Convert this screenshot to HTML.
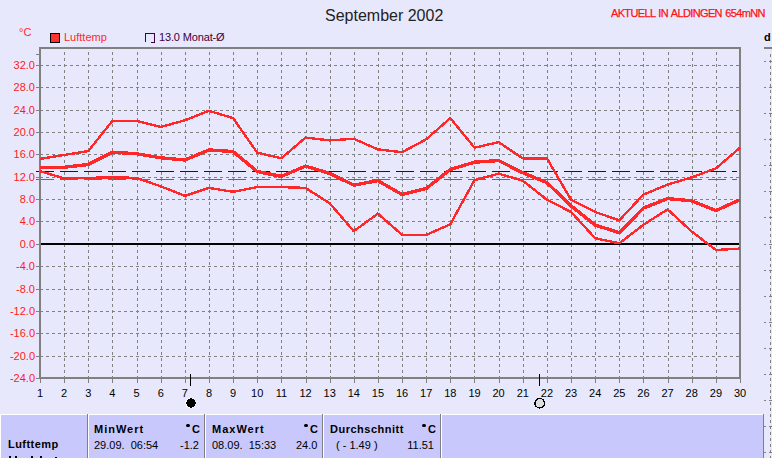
<!DOCTYPE html>
<html><head><meta charset="utf-8"><style>
html,body{margin:0;padding:0;}
body{width:772px;height:458px;overflow:hidden;background:#e8e8fc;position:relative;font-family:"Liberation Sans",sans-serif;font-size:11px;}
.a{position:absolute;white-space:pre;line-height:13px;}
svg{position:absolute;left:0;top:0;}
.yl{position:absolute;left:0;width:35px;text-align:right;color:#ff1a1a;line-height:13px;}
.xl{position:absolute;top:387px;width:30px;text-align:center;color:#000;line-height:13px;}
.b{font-weight:bold;}
</style></head><body>
<div class="a" style="left:325px;top:7px;font-size:16px;line-height:18px;color:#222;">September 2002</div>
<div class="a" style="left:611px;top:7px;color:#ff1010;letter-spacing:-0.65px;word-spacing:1px;-webkit-text-stroke:0.25px #ff1010;">AKTUELL IN ALDINGEN 654mNN</div>
<div class="a" style="left:19px;top:26px;color:#ff2828;">°C</div>
<div style="position:absolute;left:50px;top:33px;width:8px;height:8px;border:1px solid #000;background:#ff3030;"></div>
<div class="a" style="left:64px;top:31px;color:#ff2828;">Lufttemp</div>

<div class="a" style="left:159px;top:31px;color:#400040;letter-spacing:-0.15px;">13.0 Monat-Ø</div>
<div class="a b" style="left:764px;top:31px;color:#000;">d</div>
<svg width="772" height="458" viewBox="0 0 772 458" shape-rendering="crispEdges">
<path d="M40 65h3v1h-3zM46 65h3v1h-3zM52 65h3v1h-3zM58 65h3v1h-3zM64 65h3v1h-3zM70 65h3v1h-3zM76 65h3v1h-3zM82 65h3v1h-3zM88 65h3v1h-3zM94 65h3v1h-3zM100 65h3v1h-3zM106 65h3v1h-3zM112 65h3v1h-3zM118 65h3v1h-3zM124 65h3v1h-3zM130 65h3v1h-3zM136 65h3v1h-3zM142 65h3v1h-3zM148 65h3v1h-3zM154 65h3v1h-3zM160 65h3v1h-3zM166 65h3v1h-3zM172 65h3v1h-3zM178 65h3v1h-3zM184 65h3v1h-3zM190 65h3v1h-3zM196 65h3v1h-3zM202 65h3v1h-3zM208 65h3v1h-3zM214 65h3v1h-3zM220 65h3v1h-3zM226 65h3v1h-3zM232 65h3v1h-3zM238 65h3v1h-3zM244 65h3v1h-3zM250 65h3v1h-3zM256 65h3v1h-3zM262 65h3v1h-3zM268 65h3v1h-3zM274 65h3v1h-3zM280 65h3v1h-3zM286 65h3v1h-3zM292 65h3v1h-3zM298 65h3v1h-3zM304 65h3v1h-3zM310 65h3v1h-3zM316 65h3v1h-3zM322 65h3v1h-3zM328 65h3v1h-3zM334 65h3v1h-3zM340 65h3v1h-3zM346 65h3v1h-3zM352 65h3v1h-3zM358 65h3v1h-3zM364 65h3v1h-3zM370 65h3v1h-3zM376 65h3v1h-3zM382 65h3v1h-3zM388 65h3v1h-3zM394 65h3v1h-3zM400 65h3v1h-3zM406 65h3v1h-3zM412 65h3v1h-3zM418 65h3v1h-3zM424 65h3v1h-3zM430 65h3v1h-3zM436 65h3v1h-3zM442 65h3v1h-3zM448 65h3v1h-3zM454 65h3v1h-3zM460 65h3v1h-3zM466 65h3v1h-3zM472 65h3v1h-3zM478 65h3v1h-3zM484 65h3v1h-3zM490 65h3v1h-3zM496 65h3v1h-3zM502 65h3v1h-3zM508 65h3v1h-3zM514 65h3v1h-3zM520 65h3v1h-3zM526 65h3v1h-3zM532 65h3v1h-3zM538 65h3v1h-3zM544 65h3v1h-3zM550 65h3v1h-3zM556 65h3v1h-3zM562 65h3v1h-3zM568 65h3v1h-3zM574 65h3v1h-3zM580 65h3v1h-3zM586 65h3v1h-3zM592 65h3v1h-3zM598 65h3v1h-3zM604 65h3v1h-3zM610 65h3v1h-3zM616 65h3v1h-3zM622 65h3v1h-3zM628 65h3v1h-3zM634 65h3v1h-3zM640 65h3v1h-3zM646 65h3v1h-3zM652 65h3v1h-3zM658 65h3v1h-3zM664 65h3v1h-3zM670 65h3v1h-3zM676 65h3v1h-3zM682 65h3v1h-3zM688 65h3v1h-3zM694 65h3v1h-3zM700 65h3v1h-3zM706 65h3v1h-3zM712 65h3v1h-3zM718 65h3v1h-3zM724 65h3v1h-3zM730 65h3v1h-3zM736 65h3v1h-3z" fill="#808080"/>
<path d="M40 87h3v1h-3zM46 87h3v1h-3zM52 87h3v1h-3zM58 87h3v1h-3zM64 87h3v1h-3zM70 87h3v1h-3zM76 87h3v1h-3zM82 87h3v1h-3zM88 87h3v1h-3zM94 87h3v1h-3zM100 87h3v1h-3zM106 87h3v1h-3zM112 87h3v1h-3zM118 87h3v1h-3zM124 87h3v1h-3zM130 87h3v1h-3zM136 87h3v1h-3zM142 87h3v1h-3zM148 87h3v1h-3zM154 87h3v1h-3zM160 87h3v1h-3zM166 87h3v1h-3zM172 87h3v1h-3zM178 87h3v1h-3zM184 87h3v1h-3zM190 87h3v1h-3zM196 87h3v1h-3zM202 87h3v1h-3zM208 87h3v1h-3zM214 87h3v1h-3zM220 87h3v1h-3zM226 87h3v1h-3zM232 87h3v1h-3zM238 87h3v1h-3zM244 87h3v1h-3zM250 87h3v1h-3zM256 87h3v1h-3zM262 87h3v1h-3zM268 87h3v1h-3zM274 87h3v1h-3zM280 87h3v1h-3zM286 87h3v1h-3zM292 87h3v1h-3zM298 87h3v1h-3zM304 87h3v1h-3zM310 87h3v1h-3zM316 87h3v1h-3zM322 87h3v1h-3zM328 87h3v1h-3zM334 87h3v1h-3zM340 87h3v1h-3zM346 87h3v1h-3zM352 87h3v1h-3zM358 87h3v1h-3zM364 87h3v1h-3zM370 87h3v1h-3zM376 87h3v1h-3zM382 87h3v1h-3zM388 87h3v1h-3zM394 87h3v1h-3zM400 87h3v1h-3zM406 87h3v1h-3zM412 87h3v1h-3zM418 87h3v1h-3zM424 87h3v1h-3zM430 87h3v1h-3zM436 87h3v1h-3zM442 87h3v1h-3zM448 87h3v1h-3zM454 87h3v1h-3zM460 87h3v1h-3zM466 87h3v1h-3zM472 87h3v1h-3zM478 87h3v1h-3zM484 87h3v1h-3zM490 87h3v1h-3zM496 87h3v1h-3zM502 87h3v1h-3zM508 87h3v1h-3zM514 87h3v1h-3zM520 87h3v1h-3zM526 87h3v1h-3zM532 87h3v1h-3zM538 87h3v1h-3zM544 87h3v1h-3zM550 87h3v1h-3zM556 87h3v1h-3zM562 87h3v1h-3zM568 87h3v1h-3zM574 87h3v1h-3zM580 87h3v1h-3zM586 87h3v1h-3zM592 87h3v1h-3zM598 87h3v1h-3zM604 87h3v1h-3zM610 87h3v1h-3zM616 87h3v1h-3zM622 87h3v1h-3zM628 87h3v1h-3zM634 87h3v1h-3zM640 87h3v1h-3zM646 87h3v1h-3zM652 87h3v1h-3zM658 87h3v1h-3zM664 87h3v1h-3zM670 87h3v1h-3zM676 87h3v1h-3zM682 87h3v1h-3zM688 87h3v1h-3zM694 87h3v1h-3zM700 87h3v1h-3zM706 87h3v1h-3zM712 87h3v1h-3zM718 87h3v1h-3zM724 87h3v1h-3zM730 87h3v1h-3zM736 87h3v1h-3z" fill="#808080"/>
<path d="M40 110h3v1h-3zM46 110h3v1h-3zM52 110h3v1h-3zM58 110h3v1h-3zM64 110h3v1h-3zM70 110h3v1h-3zM76 110h3v1h-3zM82 110h3v1h-3zM88 110h3v1h-3zM94 110h3v1h-3zM100 110h3v1h-3zM106 110h3v1h-3zM112 110h3v1h-3zM118 110h3v1h-3zM124 110h3v1h-3zM130 110h3v1h-3zM136 110h3v1h-3zM142 110h3v1h-3zM148 110h3v1h-3zM154 110h3v1h-3zM160 110h3v1h-3zM166 110h3v1h-3zM172 110h3v1h-3zM178 110h3v1h-3zM184 110h3v1h-3zM190 110h3v1h-3zM196 110h3v1h-3zM202 110h3v1h-3zM208 110h3v1h-3zM214 110h3v1h-3zM220 110h3v1h-3zM226 110h3v1h-3zM232 110h3v1h-3zM238 110h3v1h-3zM244 110h3v1h-3zM250 110h3v1h-3zM256 110h3v1h-3zM262 110h3v1h-3zM268 110h3v1h-3zM274 110h3v1h-3zM280 110h3v1h-3zM286 110h3v1h-3zM292 110h3v1h-3zM298 110h3v1h-3zM304 110h3v1h-3zM310 110h3v1h-3zM316 110h3v1h-3zM322 110h3v1h-3zM328 110h3v1h-3zM334 110h3v1h-3zM340 110h3v1h-3zM346 110h3v1h-3zM352 110h3v1h-3zM358 110h3v1h-3zM364 110h3v1h-3zM370 110h3v1h-3zM376 110h3v1h-3zM382 110h3v1h-3zM388 110h3v1h-3zM394 110h3v1h-3zM400 110h3v1h-3zM406 110h3v1h-3zM412 110h3v1h-3zM418 110h3v1h-3zM424 110h3v1h-3zM430 110h3v1h-3zM436 110h3v1h-3zM442 110h3v1h-3zM448 110h3v1h-3zM454 110h3v1h-3zM460 110h3v1h-3zM466 110h3v1h-3zM472 110h3v1h-3zM478 110h3v1h-3zM484 110h3v1h-3zM490 110h3v1h-3zM496 110h3v1h-3zM502 110h3v1h-3zM508 110h3v1h-3zM514 110h3v1h-3zM520 110h3v1h-3zM526 110h3v1h-3zM532 110h3v1h-3zM538 110h3v1h-3zM544 110h3v1h-3zM550 110h3v1h-3zM556 110h3v1h-3zM562 110h3v1h-3zM568 110h3v1h-3zM574 110h3v1h-3zM580 110h3v1h-3zM586 110h3v1h-3zM592 110h3v1h-3zM598 110h3v1h-3zM604 110h3v1h-3zM610 110h3v1h-3zM616 110h3v1h-3zM622 110h3v1h-3zM628 110h3v1h-3zM634 110h3v1h-3zM640 110h3v1h-3zM646 110h3v1h-3zM652 110h3v1h-3zM658 110h3v1h-3zM664 110h3v1h-3zM670 110h3v1h-3zM676 110h3v1h-3zM682 110h3v1h-3zM688 110h3v1h-3zM694 110h3v1h-3zM700 110h3v1h-3zM706 110h3v1h-3zM712 110h3v1h-3zM718 110h3v1h-3zM724 110h3v1h-3zM730 110h3v1h-3zM736 110h3v1h-3z" fill="#808080"/>
<path d="M40 132h3v1h-3zM46 132h3v1h-3zM52 132h3v1h-3zM58 132h3v1h-3zM64 132h3v1h-3zM70 132h3v1h-3zM76 132h3v1h-3zM82 132h3v1h-3zM88 132h3v1h-3zM94 132h3v1h-3zM100 132h3v1h-3zM106 132h3v1h-3zM112 132h3v1h-3zM118 132h3v1h-3zM124 132h3v1h-3zM130 132h3v1h-3zM136 132h3v1h-3zM142 132h3v1h-3zM148 132h3v1h-3zM154 132h3v1h-3zM160 132h3v1h-3zM166 132h3v1h-3zM172 132h3v1h-3zM178 132h3v1h-3zM184 132h3v1h-3zM190 132h3v1h-3zM196 132h3v1h-3zM202 132h3v1h-3zM208 132h3v1h-3zM214 132h3v1h-3zM220 132h3v1h-3zM226 132h3v1h-3zM232 132h3v1h-3zM238 132h3v1h-3zM244 132h3v1h-3zM250 132h3v1h-3zM256 132h3v1h-3zM262 132h3v1h-3zM268 132h3v1h-3zM274 132h3v1h-3zM280 132h3v1h-3zM286 132h3v1h-3zM292 132h3v1h-3zM298 132h3v1h-3zM304 132h3v1h-3zM310 132h3v1h-3zM316 132h3v1h-3zM322 132h3v1h-3zM328 132h3v1h-3zM334 132h3v1h-3zM340 132h3v1h-3zM346 132h3v1h-3zM352 132h3v1h-3zM358 132h3v1h-3zM364 132h3v1h-3zM370 132h3v1h-3zM376 132h3v1h-3zM382 132h3v1h-3zM388 132h3v1h-3zM394 132h3v1h-3zM400 132h3v1h-3zM406 132h3v1h-3zM412 132h3v1h-3zM418 132h3v1h-3zM424 132h3v1h-3zM430 132h3v1h-3zM436 132h3v1h-3zM442 132h3v1h-3zM448 132h3v1h-3zM454 132h3v1h-3zM460 132h3v1h-3zM466 132h3v1h-3zM472 132h3v1h-3zM478 132h3v1h-3zM484 132h3v1h-3zM490 132h3v1h-3zM496 132h3v1h-3zM502 132h3v1h-3zM508 132h3v1h-3zM514 132h3v1h-3zM520 132h3v1h-3zM526 132h3v1h-3zM532 132h3v1h-3zM538 132h3v1h-3zM544 132h3v1h-3zM550 132h3v1h-3zM556 132h3v1h-3zM562 132h3v1h-3zM568 132h3v1h-3zM574 132h3v1h-3zM580 132h3v1h-3zM586 132h3v1h-3zM592 132h3v1h-3zM598 132h3v1h-3zM604 132h3v1h-3zM610 132h3v1h-3zM616 132h3v1h-3zM622 132h3v1h-3zM628 132h3v1h-3zM634 132h3v1h-3zM640 132h3v1h-3zM646 132h3v1h-3zM652 132h3v1h-3zM658 132h3v1h-3zM664 132h3v1h-3zM670 132h3v1h-3zM676 132h3v1h-3zM682 132h3v1h-3zM688 132h3v1h-3zM694 132h3v1h-3zM700 132h3v1h-3zM706 132h3v1h-3zM712 132h3v1h-3zM718 132h3v1h-3zM724 132h3v1h-3zM730 132h3v1h-3zM736 132h3v1h-3z" fill="#808080"/>
<path d="M40 154h3v1h-3zM46 154h3v1h-3zM52 154h3v1h-3zM58 154h3v1h-3zM64 154h3v1h-3zM70 154h3v1h-3zM76 154h3v1h-3zM82 154h3v1h-3zM88 154h3v1h-3zM94 154h3v1h-3zM100 154h3v1h-3zM106 154h3v1h-3zM112 154h3v1h-3zM118 154h3v1h-3zM124 154h3v1h-3zM130 154h3v1h-3zM136 154h3v1h-3zM142 154h3v1h-3zM148 154h3v1h-3zM154 154h3v1h-3zM160 154h3v1h-3zM166 154h3v1h-3zM172 154h3v1h-3zM178 154h3v1h-3zM184 154h3v1h-3zM190 154h3v1h-3zM196 154h3v1h-3zM202 154h3v1h-3zM208 154h3v1h-3zM214 154h3v1h-3zM220 154h3v1h-3zM226 154h3v1h-3zM232 154h3v1h-3zM238 154h3v1h-3zM244 154h3v1h-3zM250 154h3v1h-3zM256 154h3v1h-3zM262 154h3v1h-3zM268 154h3v1h-3zM274 154h3v1h-3zM280 154h3v1h-3zM286 154h3v1h-3zM292 154h3v1h-3zM298 154h3v1h-3zM304 154h3v1h-3zM310 154h3v1h-3zM316 154h3v1h-3zM322 154h3v1h-3zM328 154h3v1h-3zM334 154h3v1h-3zM340 154h3v1h-3zM346 154h3v1h-3zM352 154h3v1h-3zM358 154h3v1h-3zM364 154h3v1h-3zM370 154h3v1h-3zM376 154h3v1h-3zM382 154h3v1h-3zM388 154h3v1h-3zM394 154h3v1h-3zM400 154h3v1h-3zM406 154h3v1h-3zM412 154h3v1h-3zM418 154h3v1h-3zM424 154h3v1h-3zM430 154h3v1h-3zM436 154h3v1h-3zM442 154h3v1h-3zM448 154h3v1h-3zM454 154h3v1h-3zM460 154h3v1h-3zM466 154h3v1h-3zM472 154h3v1h-3zM478 154h3v1h-3zM484 154h3v1h-3zM490 154h3v1h-3zM496 154h3v1h-3zM502 154h3v1h-3zM508 154h3v1h-3zM514 154h3v1h-3zM520 154h3v1h-3zM526 154h3v1h-3zM532 154h3v1h-3zM538 154h3v1h-3zM544 154h3v1h-3zM550 154h3v1h-3zM556 154h3v1h-3zM562 154h3v1h-3zM568 154h3v1h-3zM574 154h3v1h-3zM580 154h3v1h-3zM586 154h3v1h-3zM592 154h3v1h-3zM598 154h3v1h-3zM604 154h3v1h-3zM610 154h3v1h-3zM616 154h3v1h-3zM622 154h3v1h-3zM628 154h3v1h-3zM634 154h3v1h-3zM640 154h3v1h-3zM646 154h3v1h-3zM652 154h3v1h-3zM658 154h3v1h-3zM664 154h3v1h-3zM670 154h3v1h-3zM676 154h3v1h-3zM682 154h3v1h-3zM688 154h3v1h-3zM694 154h3v1h-3zM700 154h3v1h-3zM706 154h3v1h-3zM712 154h3v1h-3zM718 154h3v1h-3zM724 154h3v1h-3zM730 154h3v1h-3zM736 154h3v1h-3z" fill="#808080"/>
<path d="M40 177h3v1h-3zM46 177h3v1h-3zM52 177h3v1h-3zM58 177h3v1h-3zM64 177h3v1h-3zM70 177h3v1h-3zM76 177h3v1h-3zM82 177h3v1h-3zM88 177h3v1h-3zM94 177h3v1h-3zM100 177h3v1h-3zM106 177h3v1h-3zM112 177h3v1h-3zM118 177h3v1h-3zM124 177h3v1h-3zM130 177h3v1h-3zM136 177h3v1h-3zM142 177h3v1h-3zM148 177h3v1h-3zM154 177h3v1h-3zM160 177h3v1h-3zM166 177h3v1h-3zM172 177h3v1h-3zM178 177h3v1h-3zM184 177h3v1h-3zM190 177h3v1h-3zM196 177h3v1h-3zM202 177h3v1h-3zM208 177h3v1h-3zM214 177h3v1h-3zM220 177h3v1h-3zM226 177h3v1h-3zM232 177h3v1h-3zM238 177h3v1h-3zM244 177h3v1h-3zM250 177h3v1h-3zM256 177h3v1h-3zM262 177h3v1h-3zM268 177h3v1h-3zM274 177h3v1h-3zM280 177h3v1h-3zM286 177h3v1h-3zM292 177h3v1h-3zM298 177h3v1h-3zM304 177h3v1h-3zM310 177h3v1h-3zM316 177h3v1h-3zM322 177h3v1h-3zM328 177h3v1h-3zM334 177h3v1h-3zM340 177h3v1h-3zM346 177h3v1h-3zM352 177h3v1h-3zM358 177h3v1h-3zM364 177h3v1h-3zM370 177h3v1h-3zM376 177h3v1h-3zM382 177h3v1h-3zM388 177h3v1h-3zM394 177h3v1h-3zM400 177h3v1h-3zM406 177h3v1h-3zM412 177h3v1h-3zM418 177h3v1h-3zM424 177h3v1h-3zM430 177h3v1h-3zM436 177h3v1h-3zM442 177h3v1h-3zM448 177h3v1h-3zM454 177h3v1h-3zM460 177h3v1h-3zM466 177h3v1h-3zM472 177h3v1h-3zM478 177h3v1h-3zM484 177h3v1h-3zM490 177h3v1h-3zM496 177h3v1h-3zM502 177h3v1h-3zM508 177h3v1h-3zM514 177h3v1h-3zM520 177h3v1h-3zM526 177h3v1h-3zM532 177h3v1h-3zM538 177h3v1h-3zM544 177h3v1h-3zM550 177h3v1h-3zM556 177h3v1h-3zM562 177h3v1h-3zM568 177h3v1h-3zM574 177h3v1h-3zM580 177h3v1h-3zM586 177h3v1h-3zM592 177h3v1h-3zM598 177h3v1h-3zM604 177h3v1h-3zM610 177h3v1h-3zM616 177h3v1h-3zM622 177h3v1h-3zM628 177h3v1h-3zM634 177h3v1h-3zM640 177h3v1h-3zM646 177h3v1h-3zM652 177h3v1h-3zM658 177h3v1h-3zM664 177h3v1h-3zM670 177h3v1h-3zM676 177h3v1h-3zM682 177h3v1h-3zM688 177h3v1h-3zM694 177h3v1h-3zM700 177h3v1h-3zM706 177h3v1h-3zM712 177h3v1h-3zM718 177h3v1h-3zM724 177h3v1h-3zM730 177h3v1h-3zM736 177h3v1h-3z" fill="#808080"/>
<path d="M40 199h3v1h-3zM46 199h3v1h-3zM52 199h3v1h-3zM58 199h3v1h-3zM64 199h3v1h-3zM70 199h3v1h-3zM76 199h3v1h-3zM82 199h3v1h-3zM88 199h3v1h-3zM94 199h3v1h-3zM100 199h3v1h-3zM106 199h3v1h-3zM112 199h3v1h-3zM118 199h3v1h-3zM124 199h3v1h-3zM130 199h3v1h-3zM136 199h3v1h-3zM142 199h3v1h-3zM148 199h3v1h-3zM154 199h3v1h-3zM160 199h3v1h-3zM166 199h3v1h-3zM172 199h3v1h-3zM178 199h3v1h-3zM184 199h3v1h-3zM190 199h3v1h-3zM196 199h3v1h-3zM202 199h3v1h-3zM208 199h3v1h-3zM214 199h3v1h-3zM220 199h3v1h-3zM226 199h3v1h-3zM232 199h3v1h-3zM238 199h3v1h-3zM244 199h3v1h-3zM250 199h3v1h-3zM256 199h3v1h-3zM262 199h3v1h-3zM268 199h3v1h-3zM274 199h3v1h-3zM280 199h3v1h-3zM286 199h3v1h-3zM292 199h3v1h-3zM298 199h3v1h-3zM304 199h3v1h-3zM310 199h3v1h-3zM316 199h3v1h-3zM322 199h3v1h-3zM328 199h3v1h-3zM334 199h3v1h-3zM340 199h3v1h-3zM346 199h3v1h-3zM352 199h3v1h-3zM358 199h3v1h-3zM364 199h3v1h-3zM370 199h3v1h-3zM376 199h3v1h-3zM382 199h3v1h-3zM388 199h3v1h-3zM394 199h3v1h-3zM400 199h3v1h-3zM406 199h3v1h-3zM412 199h3v1h-3zM418 199h3v1h-3zM424 199h3v1h-3zM430 199h3v1h-3zM436 199h3v1h-3zM442 199h3v1h-3zM448 199h3v1h-3zM454 199h3v1h-3zM460 199h3v1h-3zM466 199h3v1h-3zM472 199h3v1h-3zM478 199h3v1h-3zM484 199h3v1h-3zM490 199h3v1h-3zM496 199h3v1h-3zM502 199h3v1h-3zM508 199h3v1h-3zM514 199h3v1h-3zM520 199h3v1h-3zM526 199h3v1h-3zM532 199h3v1h-3zM538 199h3v1h-3zM544 199h3v1h-3zM550 199h3v1h-3zM556 199h3v1h-3zM562 199h3v1h-3zM568 199h3v1h-3zM574 199h3v1h-3zM580 199h3v1h-3zM586 199h3v1h-3zM592 199h3v1h-3zM598 199h3v1h-3zM604 199h3v1h-3zM610 199h3v1h-3zM616 199h3v1h-3zM622 199h3v1h-3zM628 199h3v1h-3zM634 199h3v1h-3zM640 199h3v1h-3zM646 199h3v1h-3zM652 199h3v1h-3zM658 199h3v1h-3zM664 199h3v1h-3zM670 199h3v1h-3zM676 199h3v1h-3zM682 199h3v1h-3zM688 199h3v1h-3zM694 199h3v1h-3zM700 199h3v1h-3zM706 199h3v1h-3zM712 199h3v1h-3zM718 199h3v1h-3zM724 199h3v1h-3zM730 199h3v1h-3zM736 199h3v1h-3z" fill="#808080"/>
<path d="M40 221h3v1h-3zM46 221h3v1h-3zM52 221h3v1h-3zM58 221h3v1h-3zM64 221h3v1h-3zM70 221h3v1h-3zM76 221h3v1h-3zM82 221h3v1h-3zM88 221h3v1h-3zM94 221h3v1h-3zM100 221h3v1h-3zM106 221h3v1h-3zM112 221h3v1h-3zM118 221h3v1h-3zM124 221h3v1h-3zM130 221h3v1h-3zM136 221h3v1h-3zM142 221h3v1h-3zM148 221h3v1h-3zM154 221h3v1h-3zM160 221h3v1h-3zM166 221h3v1h-3zM172 221h3v1h-3zM178 221h3v1h-3zM184 221h3v1h-3zM190 221h3v1h-3zM196 221h3v1h-3zM202 221h3v1h-3zM208 221h3v1h-3zM214 221h3v1h-3zM220 221h3v1h-3zM226 221h3v1h-3zM232 221h3v1h-3zM238 221h3v1h-3zM244 221h3v1h-3zM250 221h3v1h-3zM256 221h3v1h-3zM262 221h3v1h-3zM268 221h3v1h-3zM274 221h3v1h-3zM280 221h3v1h-3zM286 221h3v1h-3zM292 221h3v1h-3zM298 221h3v1h-3zM304 221h3v1h-3zM310 221h3v1h-3zM316 221h3v1h-3zM322 221h3v1h-3zM328 221h3v1h-3zM334 221h3v1h-3zM340 221h3v1h-3zM346 221h3v1h-3zM352 221h3v1h-3zM358 221h3v1h-3zM364 221h3v1h-3zM370 221h3v1h-3zM376 221h3v1h-3zM382 221h3v1h-3zM388 221h3v1h-3zM394 221h3v1h-3zM400 221h3v1h-3zM406 221h3v1h-3zM412 221h3v1h-3zM418 221h3v1h-3zM424 221h3v1h-3zM430 221h3v1h-3zM436 221h3v1h-3zM442 221h3v1h-3zM448 221h3v1h-3zM454 221h3v1h-3zM460 221h3v1h-3zM466 221h3v1h-3zM472 221h3v1h-3zM478 221h3v1h-3zM484 221h3v1h-3zM490 221h3v1h-3zM496 221h3v1h-3zM502 221h3v1h-3zM508 221h3v1h-3zM514 221h3v1h-3zM520 221h3v1h-3zM526 221h3v1h-3zM532 221h3v1h-3zM538 221h3v1h-3zM544 221h3v1h-3zM550 221h3v1h-3zM556 221h3v1h-3zM562 221h3v1h-3zM568 221h3v1h-3zM574 221h3v1h-3zM580 221h3v1h-3zM586 221h3v1h-3zM592 221h3v1h-3zM598 221h3v1h-3zM604 221h3v1h-3zM610 221h3v1h-3zM616 221h3v1h-3zM622 221h3v1h-3zM628 221h3v1h-3zM634 221h3v1h-3zM640 221h3v1h-3zM646 221h3v1h-3zM652 221h3v1h-3zM658 221h3v1h-3zM664 221h3v1h-3zM670 221h3v1h-3zM676 221h3v1h-3zM682 221h3v1h-3zM688 221h3v1h-3zM694 221h3v1h-3zM700 221h3v1h-3zM706 221h3v1h-3zM712 221h3v1h-3zM718 221h3v1h-3zM724 221h3v1h-3zM730 221h3v1h-3zM736 221h3v1h-3z" fill="#808080"/>
<path d="M40 266h3v1h-3zM46 266h3v1h-3zM52 266h3v1h-3zM58 266h3v1h-3zM64 266h3v1h-3zM70 266h3v1h-3zM76 266h3v1h-3zM82 266h3v1h-3zM88 266h3v1h-3zM94 266h3v1h-3zM100 266h3v1h-3zM106 266h3v1h-3zM112 266h3v1h-3zM118 266h3v1h-3zM124 266h3v1h-3zM130 266h3v1h-3zM136 266h3v1h-3zM142 266h3v1h-3zM148 266h3v1h-3zM154 266h3v1h-3zM160 266h3v1h-3zM166 266h3v1h-3zM172 266h3v1h-3zM178 266h3v1h-3zM184 266h3v1h-3zM190 266h3v1h-3zM196 266h3v1h-3zM202 266h3v1h-3zM208 266h3v1h-3zM214 266h3v1h-3zM220 266h3v1h-3zM226 266h3v1h-3zM232 266h3v1h-3zM238 266h3v1h-3zM244 266h3v1h-3zM250 266h3v1h-3zM256 266h3v1h-3zM262 266h3v1h-3zM268 266h3v1h-3zM274 266h3v1h-3zM280 266h3v1h-3zM286 266h3v1h-3zM292 266h3v1h-3zM298 266h3v1h-3zM304 266h3v1h-3zM310 266h3v1h-3zM316 266h3v1h-3zM322 266h3v1h-3zM328 266h3v1h-3zM334 266h3v1h-3zM340 266h3v1h-3zM346 266h3v1h-3zM352 266h3v1h-3zM358 266h3v1h-3zM364 266h3v1h-3zM370 266h3v1h-3zM376 266h3v1h-3zM382 266h3v1h-3zM388 266h3v1h-3zM394 266h3v1h-3zM400 266h3v1h-3zM406 266h3v1h-3zM412 266h3v1h-3zM418 266h3v1h-3zM424 266h3v1h-3zM430 266h3v1h-3zM436 266h3v1h-3zM442 266h3v1h-3zM448 266h3v1h-3zM454 266h3v1h-3zM460 266h3v1h-3zM466 266h3v1h-3zM472 266h3v1h-3zM478 266h3v1h-3zM484 266h3v1h-3zM490 266h3v1h-3zM496 266h3v1h-3zM502 266h3v1h-3zM508 266h3v1h-3zM514 266h3v1h-3zM520 266h3v1h-3zM526 266h3v1h-3zM532 266h3v1h-3zM538 266h3v1h-3zM544 266h3v1h-3zM550 266h3v1h-3zM556 266h3v1h-3zM562 266h3v1h-3zM568 266h3v1h-3zM574 266h3v1h-3zM580 266h3v1h-3zM586 266h3v1h-3zM592 266h3v1h-3zM598 266h3v1h-3zM604 266h3v1h-3zM610 266h3v1h-3zM616 266h3v1h-3zM622 266h3v1h-3zM628 266h3v1h-3zM634 266h3v1h-3zM640 266h3v1h-3zM646 266h3v1h-3zM652 266h3v1h-3zM658 266h3v1h-3zM664 266h3v1h-3zM670 266h3v1h-3zM676 266h3v1h-3zM682 266h3v1h-3zM688 266h3v1h-3zM694 266h3v1h-3zM700 266h3v1h-3zM706 266h3v1h-3zM712 266h3v1h-3zM718 266h3v1h-3zM724 266h3v1h-3zM730 266h3v1h-3zM736 266h3v1h-3z" fill="#808080"/>
<path d="M40 289h3v1h-3zM46 289h3v1h-3zM52 289h3v1h-3zM58 289h3v1h-3zM64 289h3v1h-3zM70 289h3v1h-3zM76 289h3v1h-3zM82 289h3v1h-3zM88 289h3v1h-3zM94 289h3v1h-3zM100 289h3v1h-3zM106 289h3v1h-3zM112 289h3v1h-3zM118 289h3v1h-3zM124 289h3v1h-3zM130 289h3v1h-3zM136 289h3v1h-3zM142 289h3v1h-3zM148 289h3v1h-3zM154 289h3v1h-3zM160 289h3v1h-3zM166 289h3v1h-3zM172 289h3v1h-3zM178 289h3v1h-3zM184 289h3v1h-3zM190 289h3v1h-3zM196 289h3v1h-3zM202 289h3v1h-3zM208 289h3v1h-3zM214 289h3v1h-3zM220 289h3v1h-3zM226 289h3v1h-3zM232 289h3v1h-3zM238 289h3v1h-3zM244 289h3v1h-3zM250 289h3v1h-3zM256 289h3v1h-3zM262 289h3v1h-3zM268 289h3v1h-3zM274 289h3v1h-3zM280 289h3v1h-3zM286 289h3v1h-3zM292 289h3v1h-3zM298 289h3v1h-3zM304 289h3v1h-3zM310 289h3v1h-3zM316 289h3v1h-3zM322 289h3v1h-3zM328 289h3v1h-3zM334 289h3v1h-3zM340 289h3v1h-3zM346 289h3v1h-3zM352 289h3v1h-3zM358 289h3v1h-3zM364 289h3v1h-3zM370 289h3v1h-3zM376 289h3v1h-3zM382 289h3v1h-3zM388 289h3v1h-3zM394 289h3v1h-3zM400 289h3v1h-3zM406 289h3v1h-3zM412 289h3v1h-3zM418 289h3v1h-3zM424 289h3v1h-3zM430 289h3v1h-3zM436 289h3v1h-3zM442 289h3v1h-3zM448 289h3v1h-3zM454 289h3v1h-3zM460 289h3v1h-3zM466 289h3v1h-3zM472 289h3v1h-3zM478 289h3v1h-3zM484 289h3v1h-3zM490 289h3v1h-3zM496 289h3v1h-3zM502 289h3v1h-3zM508 289h3v1h-3zM514 289h3v1h-3zM520 289h3v1h-3zM526 289h3v1h-3zM532 289h3v1h-3zM538 289h3v1h-3zM544 289h3v1h-3zM550 289h3v1h-3zM556 289h3v1h-3zM562 289h3v1h-3zM568 289h3v1h-3zM574 289h3v1h-3zM580 289h3v1h-3zM586 289h3v1h-3zM592 289h3v1h-3zM598 289h3v1h-3zM604 289h3v1h-3zM610 289h3v1h-3zM616 289h3v1h-3zM622 289h3v1h-3zM628 289h3v1h-3zM634 289h3v1h-3zM640 289h3v1h-3zM646 289h3v1h-3zM652 289h3v1h-3zM658 289h3v1h-3zM664 289h3v1h-3zM670 289h3v1h-3zM676 289h3v1h-3zM682 289h3v1h-3zM688 289h3v1h-3zM694 289h3v1h-3zM700 289h3v1h-3zM706 289h3v1h-3zM712 289h3v1h-3zM718 289h3v1h-3zM724 289h3v1h-3zM730 289h3v1h-3zM736 289h3v1h-3z" fill="#808080"/>
<path d="M40 311h3v1h-3zM46 311h3v1h-3zM52 311h3v1h-3zM58 311h3v1h-3zM64 311h3v1h-3zM70 311h3v1h-3zM76 311h3v1h-3zM82 311h3v1h-3zM88 311h3v1h-3zM94 311h3v1h-3zM100 311h3v1h-3zM106 311h3v1h-3zM112 311h3v1h-3zM118 311h3v1h-3zM124 311h3v1h-3zM130 311h3v1h-3zM136 311h3v1h-3zM142 311h3v1h-3zM148 311h3v1h-3zM154 311h3v1h-3zM160 311h3v1h-3zM166 311h3v1h-3zM172 311h3v1h-3zM178 311h3v1h-3zM184 311h3v1h-3zM190 311h3v1h-3zM196 311h3v1h-3zM202 311h3v1h-3zM208 311h3v1h-3zM214 311h3v1h-3zM220 311h3v1h-3zM226 311h3v1h-3zM232 311h3v1h-3zM238 311h3v1h-3zM244 311h3v1h-3zM250 311h3v1h-3zM256 311h3v1h-3zM262 311h3v1h-3zM268 311h3v1h-3zM274 311h3v1h-3zM280 311h3v1h-3zM286 311h3v1h-3zM292 311h3v1h-3zM298 311h3v1h-3zM304 311h3v1h-3zM310 311h3v1h-3zM316 311h3v1h-3zM322 311h3v1h-3zM328 311h3v1h-3zM334 311h3v1h-3zM340 311h3v1h-3zM346 311h3v1h-3zM352 311h3v1h-3zM358 311h3v1h-3zM364 311h3v1h-3zM370 311h3v1h-3zM376 311h3v1h-3zM382 311h3v1h-3zM388 311h3v1h-3zM394 311h3v1h-3zM400 311h3v1h-3zM406 311h3v1h-3zM412 311h3v1h-3zM418 311h3v1h-3zM424 311h3v1h-3zM430 311h3v1h-3zM436 311h3v1h-3zM442 311h3v1h-3zM448 311h3v1h-3zM454 311h3v1h-3zM460 311h3v1h-3zM466 311h3v1h-3zM472 311h3v1h-3zM478 311h3v1h-3zM484 311h3v1h-3zM490 311h3v1h-3zM496 311h3v1h-3zM502 311h3v1h-3zM508 311h3v1h-3zM514 311h3v1h-3zM520 311h3v1h-3zM526 311h3v1h-3zM532 311h3v1h-3zM538 311h3v1h-3zM544 311h3v1h-3zM550 311h3v1h-3zM556 311h3v1h-3zM562 311h3v1h-3zM568 311h3v1h-3zM574 311h3v1h-3zM580 311h3v1h-3zM586 311h3v1h-3zM592 311h3v1h-3zM598 311h3v1h-3zM604 311h3v1h-3zM610 311h3v1h-3zM616 311h3v1h-3zM622 311h3v1h-3zM628 311h3v1h-3zM634 311h3v1h-3zM640 311h3v1h-3zM646 311h3v1h-3zM652 311h3v1h-3zM658 311h3v1h-3zM664 311h3v1h-3zM670 311h3v1h-3zM676 311h3v1h-3zM682 311h3v1h-3zM688 311h3v1h-3zM694 311h3v1h-3zM700 311h3v1h-3zM706 311h3v1h-3zM712 311h3v1h-3zM718 311h3v1h-3zM724 311h3v1h-3zM730 311h3v1h-3zM736 311h3v1h-3z" fill="#808080"/>
<path d="M40 333h3v1h-3zM46 333h3v1h-3zM52 333h3v1h-3zM58 333h3v1h-3zM64 333h3v1h-3zM70 333h3v1h-3zM76 333h3v1h-3zM82 333h3v1h-3zM88 333h3v1h-3zM94 333h3v1h-3zM100 333h3v1h-3zM106 333h3v1h-3zM112 333h3v1h-3zM118 333h3v1h-3zM124 333h3v1h-3zM130 333h3v1h-3zM136 333h3v1h-3zM142 333h3v1h-3zM148 333h3v1h-3zM154 333h3v1h-3zM160 333h3v1h-3zM166 333h3v1h-3zM172 333h3v1h-3zM178 333h3v1h-3zM184 333h3v1h-3zM190 333h3v1h-3zM196 333h3v1h-3zM202 333h3v1h-3zM208 333h3v1h-3zM214 333h3v1h-3zM220 333h3v1h-3zM226 333h3v1h-3zM232 333h3v1h-3zM238 333h3v1h-3zM244 333h3v1h-3zM250 333h3v1h-3zM256 333h3v1h-3zM262 333h3v1h-3zM268 333h3v1h-3zM274 333h3v1h-3zM280 333h3v1h-3zM286 333h3v1h-3zM292 333h3v1h-3zM298 333h3v1h-3zM304 333h3v1h-3zM310 333h3v1h-3zM316 333h3v1h-3zM322 333h3v1h-3zM328 333h3v1h-3zM334 333h3v1h-3zM340 333h3v1h-3zM346 333h3v1h-3zM352 333h3v1h-3zM358 333h3v1h-3zM364 333h3v1h-3zM370 333h3v1h-3zM376 333h3v1h-3zM382 333h3v1h-3zM388 333h3v1h-3zM394 333h3v1h-3zM400 333h3v1h-3zM406 333h3v1h-3zM412 333h3v1h-3zM418 333h3v1h-3zM424 333h3v1h-3zM430 333h3v1h-3zM436 333h3v1h-3zM442 333h3v1h-3zM448 333h3v1h-3zM454 333h3v1h-3zM460 333h3v1h-3zM466 333h3v1h-3zM472 333h3v1h-3zM478 333h3v1h-3zM484 333h3v1h-3zM490 333h3v1h-3zM496 333h3v1h-3zM502 333h3v1h-3zM508 333h3v1h-3zM514 333h3v1h-3zM520 333h3v1h-3zM526 333h3v1h-3zM532 333h3v1h-3zM538 333h3v1h-3zM544 333h3v1h-3zM550 333h3v1h-3zM556 333h3v1h-3zM562 333h3v1h-3zM568 333h3v1h-3zM574 333h3v1h-3zM580 333h3v1h-3zM586 333h3v1h-3zM592 333h3v1h-3zM598 333h3v1h-3zM604 333h3v1h-3zM610 333h3v1h-3zM616 333h3v1h-3zM622 333h3v1h-3zM628 333h3v1h-3zM634 333h3v1h-3zM640 333h3v1h-3zM646 333h3v1h-3zM652 333h3v1h-3zM658 333h3v1h-3zM664 333h3v1h-3zM670 333h3v1h-3zM676 333h3v1h-3zM682 333h3v1h-3zM688 333h3v1h-3zM694 333h3v1h-3zM700 333h3v1h-3zM706 333h3v1h-3zM712 333h3v1h-3zM718 333h3v1h-3zM724 333h3v1h-3zM730 333h3v1h-3zM736 333h3v1h-3z" fill="#808080"/>
<path d="M40 356h3v1h-3zM46 356h3v1h-3zM52 356h3v1h-3zM58 356h3v1h-3zM64 356h3v1h-3zM70 356h3v1h-3zM76 356h3v1h-3zM82 356h3v1h-3zM88 356h3v1h-3zM94 356h3v1h-3zM100 356h3v1h-3zM106 356h3v1h-3zM112 356h3v1h-3zM118 356h3v1h-3zM124 356h3v1h-3zM130 356h3v1h-3zM136 356h3v1h-3zM142 356h3v1h-3zM148 356h3v1h-3zM154 356h3v1h-3zM160 356h3v1h-3zM166 356h3v1h-3zM172 356h3v1h-3zM178 356h3v1h-3zM184 356h3v1h-3zM190 356h3v1h-3zM196 356h3v1h-3zM202 356h3v1h-3zM208 356h3v1h-3zM214 356h3v1h-3zM220 356h3v1h-3zM226 356h3v1h-3zM232 356h3v1h-3zM238 356h3v1h-3zM244 356h3v1h-3zM250 356h3v1h-3zM256 356h3v1h-3zM262 356h3v1h-3zM268 356h3v1h-3zM274 356h3v1h-3zM280 356h3v1h-3zM286 356h3v1h-3zM292 356h3v1h-3zM298 356h3v1h-3zM304 356h3v1h-3zM310 356h3v1h-3zM316 356h3v1h-3zM322 356h3v1h-3zM328 356h3v1h-3zM334 356h3v1h-3zM340 356h3v1h-3zM346 356h3v1h-3zM352 356h3v1h-3zM358 356h3v1h-3zM364 356h3v1h-3zM370 356h3v1h-3zM376 356h3v1h-3zM382 356h3v1h-3zM388 356h3v1h-3zM394 356h3v1h-3zM400 356h3v1h-3zM406 356h3v1h-3zM412 356h3v1h-3zM418 356h3v1h-3zM424 356h3v1h-3zM430 356h3v1h-3zM436 356h3v1h-3zM442 356h3v1h-3zM448 356h3v1h-3zM454 356h3v1h-3zM460 356h3v1h-3zM466 356h3v1h-3zM472 356h3v1h-3zM478 356h3v1h-3zM484 356h3v1h-3zM490 356h3v1h-3zM496 356h3v1h-3zM502 356h3v1h-3zM508 356h3v1h-3zM514 356h3v1h-3zM520 356h3v1h-3zM526 356h3v1h-3zM532 356h3v1h-3zM538 356h3v1h-3zM544 356h3v1h-3zM550 356h3v1h-3zM556 356h3v1h-3zM562 356h3v1h-3zM568 356h3v1h-3zM574 356h3v1h-3zM580 356h3v1h-3zM586 356h3v1h-3zM592 356h3v1h-3zM598 356h3v1h-3zM604 356h3v1h-3zM610 356h3v1h-3zM616 356h3v1h-3zM622 356h3v1h-3zM628 356h3v1h-3zM634 356h3v1h-3zM640 356h3v1h-3zM646 356h3v1h-3zM652 356h3v1h-3zM658 356h3v1h-3zM664 356h3v1h-3zM670 356h3v1h-3zM676 356h3v1h-3zM682 356h3v1h-3zM688 356h3v1h-3zM694 356h3v1h-3zM700 356h3v1h-3zM706 356h3v1h-3zM712 356h3v1h-3zM718 356h3v1h-3zM724 356h3v1h-3zM730 356h3v1h-3zM736 356h3v1h-3z" fill="#808080"/>
<path d="M64 52h1v3h-1zM64 58h1v3h-1zM64 64h1v3h-1zM64 70h1v3h-1zM64 76h1v3h-1zM64 82h1v3h-1zM64 88h1v3h-1zM64 94h1v3h-1zM64 100h1v3h-1zM64 106h1v3h-1zM64 112h1v3h-1zM64 118h1v3h-1zM64 124h1v3h-1zM64 130h1v3h-1zM64 136h1v3h-1zM64 142h1v3h-1zM64 148h1v3h-1zM64 154h1v3h-1zM64 160h1v3h-1zM64 166h1v3h-1zM64 172h1v3h-1zM64 178h1v3h-1zM64 184h1v3h-1zM64 190h1v3h-1zM64 196h1v3h-1zM64 202h1v3h-1zM64 208h1v3h-1zM64 214h1v3h-1zM64 220h1v3h-1zM64 226h1v3h-1zM64 232h1v3h-1zM64 238h1v3h-1zM64 244h1v3h-1zM64 250h1v3h-1zM64 256h1v3h-1zM64 262h1v3h-1zM64 268h1v3h-1zM64 274h1v3h-1zM64 280h1v3h-1zM64 286h1v3h-1zM64 292h1v3h-1zM64 298h1v3h-1zM64 304h1v3h-1zM64 310h1v3h-1zM64 316h1v3h-1zM64 322h1v3h-1zM64 328h1v3h-1zM64 334h1v3h-1zM64 340h1v3h-1zM64 346h1v3h-1zM64 352h1v3h-1zM64 358h1v3h-1zM64 364h1v3h-1zM64 370h1v3h-1zM64 376h1v1h-1z" fill="#808080"/>
<path d="M88 52h1v3h-1zM88 58h1v3h-1zM88 64h1v3h-1zM88 70h1v3h-1zM88 76h1v3h-1zM88 82h1v3h-1zM88 88h1v3h-1zM88 94h1v3h-1zM88 100h1v3h-1zM88 106h1v3h-1zM88 112h1v3h-1zM88 118h1v3h-1zM88 124h1v3h-1zM88 130h1v3h-1zM88 136h1v3h-1zM88 142h1v3h-1zM88 148h1v3h-1zM88 154h1v3h-1zM88 160h1v3h-1zM88 166h1v3h-1zM88 172h1v3h-1zM88 178h1v3h-1zM88 184h1v3h-1zM88 190h1v3h-1zM88 196h1v3h-1zM88 202h1v3h-1zM88 208h1v3h-1zM88 214h1v3h-1zM88 220h1v3h-1zM88 226h1v3h-1zM88 232h1v3h-1zM88 238h1v3h-1zM88 244h1v3h-1zM88 250h1v3h-1zM88 256h1v3h-1zM88 262h1v3h-1zM88 268h1v3h-1zM88 274h1v3h-1zM88 280h1v3h-1zM88 286h1v3h-1zM88 292h1v3h-1zM88 298h1v3h-1zM88 304h1v3h-1zM88 310h1v3h-1zM88 316h1v3h-1zM88 322h1v3h-1zM88 328h1v3h-1zM88 334h1v3h-1zM88 340h1v3h-1zM88 346h1v3h-1zM88 352h1v3h-1zM88 358h1v3h-1zM88 364h1v3h-1zM88 370h1v3h-1zM88 376h1v1h-1z" fill="#808080"/>
<path d="M112 52h1v3h-1zM112 58h1v3h-1zM112 64h1v3h-1zM112 70h1v3h-1zM112 76h1v3h-1zM112 82h1v3h-1zM112 88h1v3h-1zM112 94h1v3h-1zM112 100h1v3h-1zM112 106h1v3h-1zM112 112h1v3h-1zM112 118h1v3h-1zM112 124h1v3h-1zM112 130h1v3h-1zM112 136h1v3h-1zM112 142h1v3h-1zM112 148h1v3h-1zM112 154h1v3h-1zM112 160h1v3h-1zM112 166h1v3h-1zM112 172h1v3h-1zM112 178h1v3h-1zM112 184h1v3h-1zM112 190h1v3h-1zM112 196h1v3h-1zM112 202h1v3h-1zM112 208h1v3h-1zM112 214h1v3h-1zM112 220h1v3h-1zM112 226h1v3h-1zM112 232h1v3h-1zM112 238h1v3h-1zM112 244h1v3h-1zM112 250h1v3h-1zM112 256h1v3h-1zM112 262h1v3h-1zM112 268h1v3h-1zM112 274h1v3h-1zM112 280h1v3h-1zM112 286h1v3h-1zM112 292h1v3h-1zM112 298h1v3h-1zM112 304h1v3h-1zM112 310h1v3h-1zM112 316h1v3h-1zM112 322h1v3h-1zM112 328h1v3h-1zM112 334h1v3h-1zM112 340h1v3h-1zM112 346h1v3h-1zM112 352h1v3h-1zM112 358h1v3h-1zM112 364h1v3h-1zM112 370h1v3h-1zM112 376h1v1h-1z" fill="#808080"/>
<path d="M137 52h1v3h-1zM137 58h1v3h-1zM137 64h1v3h-1zM137 70h1v3h-1zM137 76h1v3h-1zM137 82h1v3h-1zM137 88h1v3h-1zM137 94h1v3h-1zM137 100h1v3h-1zM137 106h1v3h-1zM137 112h1v3h-1zM137 118h1v3h-1zM137 124h1v3h-1zM137 130h1v3h-1zM137 136h1v3h-1zM137 142h1v3h-1zM137 148h1v3h-1zM137 154h1v3h-1zM137 160h1v3h-1zM137 166h1v3h-1zM137 172h1v3h-1zM137 178h1v3h-1zM137 184h1v3h-1zM137 190h1v3h-1zM137 196h1v3h-1zM137 202h1v3h-1zM137 208h1v3h-1zM137 214h1v3h-1zM137 220h1v3h-1zM137 226h1v3h-1zM137 232h1v3h-1zM137 238h1v3h-1zM137 244h1v3h-1zM137 250h1v3h-1zM137 256h1v3h-1zM137 262h1v3h-1zM137 268h1v3h-1zM137 274h1v3h-1zM137 280h1v3h-1zM137 286h1v3h-1zM137 292h1v3h-1zM137 298h1v3h-1zM137 304h1v3h-1zM137 310h1v3h-1zM137 316h1v3h-1zM137 322h1v3h-1zM137 328h1v3h-1zM137 334h1v3h-1zM137 340h1v3h-1zM137 346h1v3h-1zM137 352h1v3h-1zM137 358h1v3h-1zM137 364h1v3h-1zM137 370h1v3h-1zM137 376h1v1h-1z" fill="#808080"/>
<path d="M161 52h1v3h-1zM161 58h1v3h-1zM161 64h1v3h-1zM161 70h1v3h-1zM161 76h1v3h-1zM161 82h1v3h-1zM161 88h1v3h-1zM161 94h1v3h-1zM161 100h1v3h-1zM161 106h1v3h-1zM161 112h1v3h-1zM161 118h1v3h-1zM161 124h1v3h-1zM161 130h1v3h-1zM161 136h1v3h-1zM161 142h1v3h-1zM161 148h1v3h-1zM161 154h1v3h-1zM161 160h1v3h-1zM161 166h1v3h-1zM161 172h1v3h-1zM161 178h1v3h-1zM161 184h1v3h-1zM161 190h1v3h-1zM161 196h1v3h-1zM161 202h1v3h-1zM161 208h1v3h-1zM161 214h1v3h-1zM161 220h1v3h-1zM161 226h1v3h-1zM161 232h1v3h-1zM161 238h1v3h-1zM161 244h1v3h-1zM161 250h1v3h-1zM161 256h1v3h-1zM161 262h1v3h-1zM161 268h1v3h-1zM161 274h1v3h-1zM161 280h1v3h-1zM161 286h1v3h-1zM161 292h1v3h-1zM161 298h1v3h-1zM161 304h1v3h-1zM161 310h1v3h-1zM161 316h1v3h-1zM161 322h1v3h-1zM161 328h1v3h-1zM161 334h1v3h-1zM161 340h1v3h-1zM161 346h1v3h-1zM161 352h1v3h-1zM161 358h1v3h-1zM161 364h1v3h-1zM161 370h1v3h-1zM161 376h1v1h-1z" fill="#808080"/>
<path d="M185 52h1v3h-1zM185 58h1v3h-1zM185 64h1v3h-1zM185 70h1v3h-1zM185 76h1v3h-1zM185 82h1v3h-1zM185 88h1v3h-1zM185 94h1v3h-1zM185 100h1v3h-1zM185 106h1v3h-1zM185 112h1v3h-1zM185 118h1v3h-1zM185 124h1v3h-1zM185 130h1v3h-1zM185 136h1v3h-1zM185 142h1v3h-1zM185 148h1v3h-1zM185 154h1v3h-1zM185 160h1v3h-1zM185 166h1v3h-1zM185 172h1v3h-1zM185 178h1v3h-1zM185 184h1v3h-1zM185 190h1v3h-1zM185 196h1v3h-1zM185 202h1v3h-1zM185 208h1v3h-1zM185 214h1v3h-1zM185 220h1v3h-1zM185 226h1v3h-1zM185 232h1v3h-1zM185 238h1v3h-1zM185 244h1v3h-1zM185 250h1v3h-1zM185 256h1v3h-1zM185 262h1v3h-1zM185 268h1v3h-1zM185 274h1v3h-1zM185 280h1v3h-1zM185 286h1v3h-1zM185 292h1v3h-1zM185 298h1v3h-1zM185 304h1v3h-1zM185 310h1v3h-1zM185 316h1v3h-1zM185 322h1v3h-1zM185 328h1v3h-1zM185 334h1v3h-1zM185 340h1v3h-1zM185 346h1v3h-1zM185 352h1v3h-1zM185 358h1v3h-1zM185 364h1v3h-1zM185 370h1v3h-1zM185 376h1v1h-1z" fill="#808080"/>
<path d="M209 52h1v3h-1zM209 58h1v3h-1zM209 64h1v3h-1zM209 70h1v3h-1zM209 76h1v3h-1zM209 82h1v3h-1zM209 88h1v3h-1zM209 94h1v3h-1zM209 100h1v3h-1zM209 106h1v3h-1zM209 112h1v3h-1zM209 118h1v3h-1zM209 124h1v3h-1zM209 130h1v3h-1zM209 136h1v3h-1zM209 142h1v3h-1zM209 148h1v3h-1zM209 154h1v3h-1zM209 160h1v3h-1zM209 166h1v3h-1zM209 172h1v3h-1zM209 178h1v3h-1zM209 184h1v3h-1zM209 190h1v3h-1zM209 196h1v3h-1zM209 202h1v3h-1zM209 208h1v3h-1zM209 214h1v3h-1zM209 220h1v3h-1zM209 226h1v3h-1zM209 232h1v3h-1zM209 238h1v3h-1zM209 244h1v3h-1zM209 250h1v3h-1zM209 256h1v3h-1zM209 262h1v3h-1zM209 268h1v3h-1zM209 274h1v3h-1zM209 280h1v3h-1zM209 286h1v3h-1zM209 292h1v3h-1zM209 298h1v3h-1zM209 304h1v3h-1zM209 310h1v3h-1zM209 316h1v3h-1zM209 322h1v3h-1zM209 328h1v3h-1zM209 334h1v3h-1zM209 340h1v3h-1zM209 346h1v3h-1zM209 352h1v3h-1zM209 358h1v3h-1zM209 364h1v3h-1zM209 370h1v3h-1zM209 376h1v1h-1z" fill="#808080"/>
<path d="M233 52h1v3h-1zM233 58h1v3h-1zM233 64h1v3h-1zM233 70h1v3h-1zM233 76h1v3h-1zM233 82h1v3h-1zM233 88h1v3h-1zM233 94h1v3h-1zM233 100h1v3h-1zM233 106h1v3h-1zM233 112h1v3h-1zM233 118h1v3h-1zM233 124h1v3h-1zM233 130h1v3h-1zM233 136h1v3h-1zM233 142h1v3h-1zM233 148h1v3h-1zM233 154h1v3h-1zM233 160h1v3h-1zM233 166h1v3h-1zM233 172h1v3h-1zM233 178h1v3h-1zM233 184h1v3h-1zM233 190h1v3h-1zM233 196h1v3h-1zM233 202h1v3h-1zM233 208h1v3h-1zM233 214h1v3h-1zM233 220h1v3h-1zM233 226h1v3h-1zM233 232h1v3h-1zM233 238h1v3h-1zM233 244h1v3h-1zM233 250h1v3h-1zM233 256h1v3h-1zM233 262h1v3h-1zM233 268h1v3h-1zM233 274h1v3h-1zM233 280h1v3h-1zM233 286h1v3h-1zM233 292h1v3h-1zM233 298h1v3h-1zM233 304h1v3h-1zM233 310h1v3h-1zM233 316h1v3h-1zM233 322h1v3h-1zM233 328h1v3h-1zM233 334h1v3h-1zM233 340h1v3h-1zM233 346h1v3h-1zM233 352h1v3h-1zM233 358h1v3h-1zM233 364h1v3h-1zM233 370h1v3h-1zM233 376h1v1h-1z" fill="#808080"/>
<path d="M257 52h1v3h-1zM257 58h1v3h-1zM257 64h1v3h-1zM257 70h1v3h-1zM257 76h1v3h-1zM257 82h1v3h-1zM257 88h1v3h-1zM257 94h1v3h-1zM257 100h1v3h-1zM257 106h1v3h-1zM257 112h1v3h-1zM257 118h1v3h-1zM257 124h1v3h-1zM257 130h1v3h-1zM257 136h1v3h-1zM257 142h1v3h-1zM257 148h1v3h-1zM257 154h1v3h-1zM257 160h1v3h-1zM257 166h1v3h-1zM257 172h1v3h-1zM257 178h1v3h-1zM257 184h1v3h-1zM257 190h1v3h-1zM257 196h1v3h-1zM257 202h1v3h-1zM257 208h1v3h-1zM257 214h1v3h-1zM257 220h1v3h-1zM257 226h1v3h-1zM257 232h1v3h-1zM257 238h1v3h-1zM257 244h1v3h-1zM257 250h1v3h-1zM257 256h1v3h-1zM257 262h1v3h-1zM257 268h1v3h-1zM257 274h1v3h-1zM257 280h1v3h-1zM257 286h1v3h-1zM257 292h1v3h-1zM257 298h1v3h-1zM257 304h1v3h-1zM257 310h1v3h-1zM257 316h1v3h-1zM257 322h1v3h-1zM257 328h1v3h-1zM257 334h1v3h-1zM257 340h1v3h-1zM257 346h1v3h-1zM257 352h1v3h-1zM257 358h1v3h-1zM257 364h1v3h-1zM257 370h1v3h-1zM257 376h1v1h-1z" fill="#808080"/>
<path d="M281 52h1v3h-1zM281 58h1v3h-1zM281 64h1v3h-1zM281 70h1v3h-1zM281 76h1v3h-1zM281 82h1v3h-1zM281 88h1v3h-1zM281 94h1v3h-1zM281 100h1v3h-1zM281 106h1v3h-1zM281 112h1v3h-1zM281 118h1v3h-1zM281 124h1v3h-1zM281 130h1v3h-1zM281 136h1v3h-1zM281 142h1v3h-1zM281 148h1v3h-1zM281 154h1v3h-1zM281 160h1v3h-1zM281 166h1v3h-1zM281 172h1v3h-1zM281 178h1v3h-1zM281 184h1v3h-1zM281 190h1v3h-1zM281 196h1v3h-1zM281 202h1v3h-1zM281 208h1v3h-1zM281 214h1v3h-1zM281 220h1v3h-1zM281 226h1v3h-1zM281 232h1v3h-1zM281 238h1v3h-1zM281 244h1v3h-1zM281 250h1v3h-1zM281 256h1v3h-1zM281 262h1v3h-1zM281 268h1v3h-1zM281 274h1v3h-1zM281 280h1v3h-1zM281 286h1v3h-1zM281 292h1v3h-1zM281 298h1v3h-1zM281 304h1v3h-1zM281 310h1v3h-1zM281 316h1v3h-1zM281 322h1v3h-1zM281 328h1v3h-1zM281 334h1v3h-1zM281 340h1v3h-1zM281 346h1v3h-1zM281 352h1v3h-1zM281 358h1v3h-1zM281 364h1v3h-1zM281 370h1v3h-1zM281 376h1v1h-1z" fill="#808080"/>
<path d="M306 52h1v3h-1zM306 58h1v3h-1zM306 64h1v3h-1zM306 70h1v3h-1zM306 76h1v3h-1zM306 82h1v3h-1zM306 88h1v3h-1zM306 94h1v3h-1zM306 100h1v3h-1zM306 106h1v3h-1zM306 112h1v3h-1zM306 118h1v3h-1zM306 124h1v3h-1zM306 130h1v3h-1zM306 136h1v3h-1zM306 142h1v3h-1zM306 148h1v3h-1zM306 154h1v3h-1zM306 160h1v3h-1zM306 166h1v3h-1zM306 172h1v3h-1zM306 178h1v3h-1zM306 184h1v3h-1zM306 190h1v3h-1zM306 196h1v3h-1zM306 202h1v3h-1zM306 208h1v3h-1zM306 214h1v3h-1zM306 220h1v3h-1zM306 226h1v3h-1zM306 232h1v3h-1zM306 238h1v3h-1zM306 244h1v3h-1zM306 250h1v3h-1zM306 256h1v3h-1zM306 262h1v3h-1zM306 268h1v3h-1zM306 274h1v3h-1zM306 280h1v3h-1zM306 286h1v3h-1zM306 292h1v3h-1zM306 298h1v3h-1zM306 304h1v3h-1zM306 310h1v3h-1zM306 316h1v3h-1zM306 322h1v3h-1zM306 328h1v3h-1zM306 334h1v3h-1zM306 340h1v3h-1zM306 346h1v3h-1zM306 352h1v3h-1zM306 358h1v3h-1zM306 364h1v3h-1zM306 370h1v3h-1zM306 376h1v1h-1z" fill="#808080"/>
<path d="M330 52h1v3h-1zM330 58h1v3h-1zM330 64h1v3h-1zM330 70h1v3h-1zM330 76h1v3h-1zM330 82h1v3h-1zM330 88h1v3h-1zM330 94h1v3h-1zM330 100h1v3h-1zM330 106h1v3h-1zM330 112h1v3h-1zM330 118h1v3h-1zM330 124h1v3h-1zM330 130h1v3h-1zM330 136h1v3h-1zM330 142h1v3h-1zM330 148h1v3h-1zM330 154h1v3h-1zM330 160h1v3h-1zM330 166h1v3h-1zM330 172h1v3h-1zM330 178h1v3h-1zM330 184h1v3h-1zM330 190h1v3h-1zM330 196h1v3h-1zM330 202h1v3h-1zM330 208h1v3h-1zM330 214h1v3h-1zM330 220h1v3h-1zM330 226h1v3h-1zM330 232h1v3h-1zM330 238h1v3h-1zM330 244h1v3h-1zM330 250h1v3h-1zM330 256h1v3h-1zM330 262h1v3h-1zM330 268h1v3h-1zM330 274h1v3h-1zM330 280h1v3h-1zM330 286h1v3h-1zM330 292h1v3h-1zM330 298h1v3h-1zM330 304h1v3h-1zM330 310h1v3h-1zM330 316h1v3h-1zM330 322h1v3h-1zM330 328h1v3h-1zM330 334h1v3h-1zM330 340h1v3h-1zM330 346h1v3h-1zM330 352h1v3h-1zM330 358h1v3h-1zM330 364h1v3h-1zM330 370h1v3h-1zM330 376h1v1h-1z" fill="#808080"/>
<path d="M354 52h1v3h-1zM354 58h1v3h-1zM354 64h1v3h-1zM354 70h1v3h-1zM354 76h1v3h-1zM354 82h1v3h-1zM354 88h1v3h-1zM354 94h1v3h-1zM354 100h1v3h-1zM354 106h1v3h-1zM354 112h1v3h-1zM354 118h1v3h-1zM354 124h1v3h-1zM354 130h1v3h-1zM354 136h1v3h-1zM354 142h1v3h-1zM354 148h1v3h-1zM354 154h1v3h-1zM354 160h1v3h-1zM354 166h1v3h-1zM354 172h1v3h-1zM354 178h1v3h-1zM354 184h1v3h-1zM354 190h1v3h-1zM354 196h1v3h-1zM354 202h1v3h-1zM354 208h1v3h-1zM354 214h1v3h-1zM354 220h1v3h-1zM354 226h1v3h-1zM354 232h1v3h-1zM354 238h1v3h-1zM354 244h1v3h-1zM354 250h1v3h-1zM354 256h1v3h-1zM354 262h1v3h-1zM354 268h1v3h-1zM354 274h1v3h-1zM354 280h1v3h-1zM354 286h1v3h-1zM354 292h1v3h-1zM354 298h1v3h-1zM354 304h1v3h-1zM354 310h1v3h-1zM354 316h1v3h-1zM354 322h1v3h-1zM354 328h1v3h-1zM354 334h1v3h-1zM354 340h1v3h-1zM354 346h1v3h-1zM354 352h1v3h-1zM354 358h1v3h-1zM354 364h1v3h-1zM354 370h1v3h-1zM354 376h1v1h-1z" fill="#808080"/>
<path d="M378 52h1v3h-1zM378 58h1v3h-1zM378 64h1v3h-1zM378 70h1v3h-1zM378 76h1v3h-1zM378 82h1v3h-1zM378 88h1v3h-1zM378 94h1v3h-1zM378 100h1v3h-1zM378 106h1v3h-1zM378 112h1v3h-1zM378 118h1v3h-1zM378 124h1v3h-1zM378 130h1v3h-1zM378 136h1v3h-1zM378 142h1v3h-1zM378 148h1v3h-1zM378 154h1v3h-1zM378 160h1v3h-1zM378 166h1v3h-1zM378 172h1v3h-1zM378 178h1v3h-1zM378 184h1v3h-1zM378 190h1v3h-1zM378 196h1v3h-1zM378 202h1v3h-1zM378 208h1v3h-1zM378 214h1v3h-1zM378 220h1v3h-1zM378 226h1v3h-1zM378 232h1v3h-1zM378 238h1v3h-1zM378 244h1v3h-1zM378 250h1v3h-1zM378 256h1v3h-1zM378 262h1v3h-1zM378 268h1v3h-1zM378 274h1v3h-1zM378 280h1v3h-1zM378 286h1v3h-1zM378 292h1v3h-1zM378 298h1v3h-1zM378 304h1v3h-1zM378 310h1v3h-1zM378 316h1v3h-1zM378 322h1v3h-1zM378 328h1v3h-1zM378 334h1v3h-1zM378 340h1v3h-1zM378 346h1v3h-1zM378 352h1v3h-1zM378 358h1v3h-1zM378 364h1v3h-1zM378 370h1v3h-1zM378 376h1v1h-1z" fill="#808080"/>
<path d="M402 52h1v3h-1zM402 58h1v3h-1zM402 64h1v3h-1zM402 70h1v3h-1zM402 76h1v3h-1zM402 82h1v3h-1zM402 88h1v3h-1zM402 94h1v3h-1zM402 100h1v3h-1zM402 106h1v3h-1zM402 112h1v3h-1zM402 118h1v3h-1zM402 124h1v3h-1zM402 130h1v3h-1zM402 136h1v3h-1zM402 142h1v3h-1zM402 148h1v3h-1zM402 154h1v3h-1zM402 160h1v3h-1zM402 166h1v3h-1zM402 172h1v3h-1zM402 178h1v3h-1zM402 184h1v3h-1zM402 190h1v3h-1zM402 196h1v3h-1zM402 202h1v3h-1zM402 208h1v3h-1zM402 214h1v3h-1zM402 220h1v3h-1zM402 226h1v3h-1zM402 232h1v3h-1zM402 238h1v3h-1zM402 244h1v3h-1zM402 250h1v3h-1zM402 256h1v3h-1zM402 262h1v3h-1zM402 268h1v3h-1zM402 274h1v3h-1zM402 280h1v3h-1zM402 286h1v3h-1zM402 292h1v3h-1zM402 298h1v3h-1zM402 304h1v3h-1zM402 310h1v3h-1zM402 316h1v3h-1zM402 322h1v3h-1zM402 328h1v3h-1zM402 334h1v3h-1zM402 340h1v3h-1zM402 346h1v3h-1zM402 352h1v3h-1zM402 358h1v3h-1zM402 364h1v3h-1zM402 370h1v3h-1zM402 376h1v1h-1z" fill="#808080"/>
<path d="M426 52h1v3h-1zM426 58h1v3h-1zM426 64h1v3h-1zM426 70h1v3h-1zM426 76h1v3h-1zM426 82h1v3h-1zM426 88h1v3h-1zM426 94h1v3h-1zM426 100h1v3h-1zM426 106h1v3h-1zM426 112h1v3h-1zM426 118h1v3h-1zM426 124h1v3h-1zM426 130h1v3h-1zM426 136h1v3h-1zM426 142h1v3h-1zM426 148h1v3h-1zM426 154h1v3h-1zM426 160h1v3h-1zM426 166h1v3h-1zM426 172h1v3h-1zM426 178h1v3h-1zM426 184h1v3h-1zM426 190h1v3h-1zM426 196h1v3h-1zM426 202h1v3h-1zM426 208h1v3h-1zM426 214h1v3h-1zM426 220h1v3h-1zM426 226h1v3h-1zM426 232h1v3h-1zM426 238h1v3h-1zM426 244h1v3h-1zM426 250h1v3h-1zM426 256h1v3h-1zM426 262h1v3h-1zM426 268h1v3h-1zM426 274h1v3h-1zM426 280h1v3h-1zM426 286h1v3h-1zM426 292h1v3h-1zM426 298h1v3h-1zM426 304h1v3h-1zM426 310h1v3h-1zM426 316h1v3h-1zM426 322h1v3h-1zM426 328h1v3h-1zM426 334h1v3h-1zM426 340h1v3h-1zM426 346h1v3h-1zM426 352h1v3h-1zM426 358h1v3h-1zM426 364h1v3h-1zM426 370h1v3h-1zM426 376h1v1h-1z" fill="#808080"/>
<path d="M450 52h1v3h-1zM450 58h1v3h-1zM450 64h1v3h-1zM450 70h1v3h-1zM450 76h1v3h-1zM450 82h1v3h-1zM450 88h1v3h-1zM450 94h1v3h-1zM450 100h1v3h-1zM450 106h1v3h-1zM450 112h1v3h-1zM450 118h1v3h-1zM450 124h1v3h-1zM450 130h1v3h-1zM450 136h1v3h-1zM450 142h1v3h-1zM450 148h1v3h-1zM450 154h1v3h-1zM450 160h1v3h-1zM450 166h1v3h-1zM450 172h1v3h-1zM450 178h1v3h-1zM450 184h1v3h-1zM450 190h1v3h-1zM450 196h1v3h-1zM450 202h1v3h-1zM450 208h1v3h-1zM450 214h1v3h-1zM450 220h1v3h-1zM450 226h1v3h-1zM450 232h1v3h-1zM450 238h1v3h-1zM450 244h1v3h-1zM450 250h1v3h-1zM450 256h1v3h-1zM450 262h1v3h-1zM450 268h1v3h-1zM450 274h1v3h-1zM450 280h1v3h-1zM450 286h1v3h-1zM450 292h1v3h-1zM450 298h1v3h-1zM450 304h1v3h-1zM450 310h1v3h-1zM450 316h1v3h-1zM450 322h1v3h-1zM450 328h1v3h-1zM450 334h1v3h-1zM450 340h1v3h-1zM450 346h1v3h-1zM450 352h1v3h-1zM450 358h1v3h-1zM450 364h1v3h-1zM450 370h1v3h-1zM450 376h1v1h-1z" fill="#808080"/>
<path d="M474 52h1v3h-1zM474 58h1v3h-1zM474 64h1v3h-1zM474 70h1v3h-1zM474 76h1v3h-1zM474 82h1v3h-1zM474 88h1v3h-1zM474 94h1v3h-1zM474 100h1v3h-1zM474 106h1v3h-1zM474 112h1v3h-1zM474 118h1v3h-1zM474 124h1v3h-1zM474 130h1v3h-1zM474 136h1v3h-1zM474 142h1v3h-1zM474 148h1v3h-1zM474 154h1v3h-1zM474 160h1v3h-1zM474 166h1v3h-1zM474 172h1v3h-1zM474 178h1v3h-1zM474 184h1v3h-1zM474 190h1v3h-1zM474 196h1v3h-1zM474 202h1v3h-1zM474 208h1v3h-1zM474 214h1v3h-1zM474 220h1v3h-1zM474 226h1v3h-1zM474 232h1v3h-1zM474 238h1v3h-1zM474 244h1v3h-1zM474 250h1v3h-1zM474 256h1v3h-1zM474 262h1v3h-1zM474 268h1v3h-1zM474 274h1v3h-1zM474 280h1v3h-1zM474 286h1v3h-1zM474 292h1v3h-1zM474 298h1v3h-1zM474 304h1v3h-1zM474 310h1v3h-1zM474 316h1v3h-1zM474 322h1v3h-1zM474 328h1v3h-1zM474 334h1v3h-1zM474 340h1v3h-1zM474 346h1v3h-1zM474 352h1v3h-1zM474 358h1v3h-1zM474 364h1v3h-1zM474 370h1v3h-1zM474 376h1v1h-1z" fill="#808080"/>
<path d="M499 52h1v3h-1zM499 58h1v3h-1zM499 64h1v3h-1zM499 70h1v3h-1zM499 76h1v3h-1zM499 82h1v3h-1zM499 88h1v3h-1zM499 94h1v3h-1zM499 100h1v3h-1zM499 106h1v3h-1zM499 112h1v3h-1zM499 118h1v3h-1zM499 124h1v3h-1zM499 130h1v3h-1zM499 136h1v3h-1zM499 142h1v3h-1zM499 148h1v3h-1zM499 154h1v3h-1zM499 160h1v3h-1zM499 166h1v3h-1zM499 172h1v3h-1zM499 178h1v3h-1zM499 184h1v3h-1zM499 190h1v3h-1zM499 196h1v3h-1zM499 202h1v3h-1zM499 208h1v3h-1zM499 214h1v3h-1zM499 220h1v3h-1zM499 226h1v3h-1zM499 232h1v3h-1zM499 238h1v3h-1zM499 244h1v3h-1zM499 250h1v3h-1zM499 256h1v3h-1zM499 262h1v3h-1zM499 268h1v3h-1zM499 274h1v3h-1zM499 280h1v3h-1zM499 286h1v3h-1zM499 292h1v3h-1zM499 298h1v3h-1zM499 304h1v3h-1zM499 310h1v3h-1zM499 316h1v3h-1zM499 322h1v3h-1zM499 328h1v3h-1zM499 334h1v3h-1zM499 340h1v3h-1zM499 346h1v3h-1zM499 352h1v3h-1zM499 358h1v3h-1zM499 364h1v3h-1zM499 370h1v3h-1zM499 376h1v1h-1z" fill="#808080"/>
<path d="M523 52h1v3h-1zM523 58h1v3h-1zM523 64h1v3h-1zM523 70h1v3h-1zM523 76h1v3h-1zM523 82h1v3h-1zM523 88h1v3h-1zM523 94h1v3h-1zM523 100h1v3h-1zM523 106h1v3h-1zM523 112h1v3h-1zM523 118h1v3h-1zM523 124h1v3h-1zM523 130h1v3h-1zM523 136h1v3h-1zM523 142h1v3h-1zM523 148h1v3h-1zM523 154h1v3h-1zM523 160h1v3h-1zM523 166h1v3h-1zM523 172h1v3h-1zM523 178h1v3h-1zM523 184h1v3h-1zM523 190h1v3h-1zM523 196h1v3h-1zM523 202h1v3h-1zM523 208h1v3h-1zM523 214h1v3h-1zM523 220h1v3h-1zM523 226h1v3h-1zM523 232h1v3h-1zM523 238h1v3h-1zM523 244h1v3h-1zM523 250h1v3h-1zM523 256h1v3h-1zM523 262h1v3h-1zM523 268h1v3h-1zM523 274h1v3h-1zM523 280h1v3h-1zM523 286h1v3h-1zM523 292h1v3h-1zM523 298h1v3h-1zM523 304h1v3h-1zM523 310h1v3h-1zM523 316h1v3h-1zM523 322h1v3h-1zM523 328h1v3h-1zM523 334h1v3h-1zM523 340h1v3h-1zM523 346h1v3h-1zM523 352h1v3h-1zM523 358h1v3h-1zM523 364h1v3h-1zM523 370h1v3h-1zM523 376h1v1h-1z" fill="#808080"/>
<path d="M547 52h1v3h-1zM547 58h1v3h-1zM547 64h1v3h-1zM547 70h1v3h-1zM547 76h1v3h-1zM547 82h1v3h-1zM547 88h1v3h-1zM547 94h1v3h-1zM547 100h1v3h-1zM547 106h1v3h-1zM547 112h1v3h-1zM547 118h1v3h-1zM547 124h1v3h-1zM547 130h1v3h-1zM547 136h1v3h-1zM547 142h1v3h-1zM547 148h1v3h-1zM547 154h1v3h-1zM547 160h1v3h-1zM547 166h1v3h-1zM547 172h1v3h-1zM547 178h1v3h-1zM547 184h1v3h-1zM547 190h1v3h-1zM547 196h1v3h-1zM547 202h1v3h-1zM547 208h1v3h-1zM547 214h1v3h-1zM547 220h1v3h-1zM547 226h1v3h-1zM547 232h1v3h-1zM547 238h1v3h-1zM547 244h1v3h-1zM547 250h1v3h-1zM547 256h1v3h-1zM547 262h1v3h-1zM547 268h1v3h-1zM547 274h1v3h-1zM547 280h1v3h-1zM547 286h1v3h-1zM547 292h1v3h-1zM547 298h1v3h-1zM547 304h1v3h-1zM547 310h1v3h-1zM547 316h1v3h-1zM547 322h1v3h-1zM547 328h1v3h-1zM547 334h1v3h-1zM547 340h1v3h-1zM547 346h1v3h-1zM547 352h1v3h-1zM547 358h1v3h-1zM547 364h1v3h-1zM547 370h1v3h-1zM547 376h1v1h-1z" fill="#808080"/>
<path d="M571 52h1v3h-1zM571 58h1v3h-1zM571 64h1v3h-1zM571 70h1v3h-1zM571 76h1v3h-1zM571 82h1v3h-1zM571 88h1v3h-1zM571 94h1v3h-1zM571 100h1v3h-1zM571 106h1v3h-1zM571 112h1v3h-1zM571 118h1v3h-1zM571 124h1v3h-1zM571 130h1v3h-1zM571 136h1v3h-1zM571 142h1v3h-1zM571 148h1v3h-1zM571 154h1v3h-1zM571 160h1v3h-1zM571 166h1v3h-1zM571 172h1v3h-1zM571 178h1v3h-1zM571 184h1v3h-1zM571 190h1v3h-1zM571 196h1v3h-1zM571 202h1v3h-1zM571 208h1v3h-1zM571 214h1v3h-1zM571 220h1v3h-1zM571 226h1v3h-1zM571 232h1v3h-1zM571 238h1v3h-1zM571 244h1v3h-1zM571 250h1v3h-1zM571 256h1v3h-1zM571 262h1v3h-1zM571 268h1v3h-1zM571 274h1v3h-1zM571 280h1v3h-1zM571 286h1v3h-1zM571 292h1v3h-1zM571 298h1v3h-1zM571 304h1v3h-1zM571 310h1v3h-1zM571 316h1v3h-1zM571 322h1v3h-1zM571 328h1v3h-1zM571 334h1v3h-1zM571 340h1v3h-1zM571 346h1v3h-1zM571 352h1v3h-1zM571 358h1v3h-1zM571 364h1v3h-1zM571 370h1v3h-1zM571 376h1v1h-1z" fill="#808080"/>
<path d="M595 52h1v3h-1zM595 58h1v3h-1zM595 64h1v3h-1zM595 70h1v3h-1zM595 76h1v3h-1zM595 82h1v3h-1zM595 88h1v3h-1zM595 94h1v3h-1zM595 100h1v3h-1zM595 106h1v3h-1zM595 112h1v3h-1zM595 118h1v3h-1zM595 124h1v3h-1zM595 130h1v3h-1zM595 136h1v3h-1zM595 142h1v3h-1zM595 148h1v3h-1zM595 154h1v3h-1zM595 160h1v3h-1zM595 166h1v3h-1zM595 172h1v3h-1zM595 178h1v3h-1zM595 184h1v3h-1zM595 190h1v3h-1zM595 196h1v3h-1zM595 202h1v3h-1zM595 208h1v3h-1zM595 214h1v3h-1zM595 220h1v3h-1zM595 226h1v3h-1zM595 232h1v3h-1zM595 238h1v3h-1zM595 244h1v3h-1zM595 250h1v3h-1zM595 256h1v3h-1zM595 262h1v3h-1zM595 268h1v3h-1zM595 274h1v3h-1zM595 280h1v3h-1zM595 286h1v3h-1zM595 292h1v3h-1zM595 298h1v3h-1zM595 304h1v3h-1zM595 310h1v3h-1zM595 316h1v3h-1zM595 322h1v3h-1zM595 328h1v3h-1zM595 334h1v3h-1zM595 340h1v3h-1zM595 346h1v3h-1zM595 352h1v3h-1zM595 358h1v3h-1zM595 364h1v3h-1zM595 370h1v3h-1zM595 376h1v1h-1z" fill="#808080"/>
<path d="M619 52h1v3h-1zM619 58h1v3h-1zM619 64h1v3h-1zM619 70h1v3h-1zM619 76h1v3h-1zM619 82h1v3h-1zM619 88h1v3h-1zM619 94h1v3h-1zM619 100h1v3h-1zM619 106h1v3h-1zM619 112h1v3h-1zM619 118h1v3h-1zM619 124h1v3h-1zM619 130h1v3h-1zM619 136h1v3h-1zM619 142h1v3h-1zM619 148h1v3h-1zM619 154h1v3h-1zM619 160h1v3h-1zM619 166h1v3h-1zM619 172h1v3h-1zM619 178h1v3h-1zM619 184h1v3h-1zM619 190h1v3h-1zM619 196h1v3h-1zM619 202h1v3h-1zM619 208h1v3h-1zM619 214h1v3h-1zM619 220h1v3h-1zM619 226h1v3h-1zM619 232h1v3h-1zM619 238h1v3h-1zM619 244h1v3h-1zM619 250h1v3h-1zM619 256h1v3h-1zM619 262h1v3h-1zM619 268h1v3h-1zM619 274h1v3h-1zM619 280h1v3h-1zM619 286h1v3h-1zM619 292h1v3h-1zM619 298h1v3h-1zM619 304h1v3h-1zM619 310h1v3h-1zM619 316h1v3h-1zM619 322h1v3h-1zM619 328h1v3h-1zM619 334h1v3h-1zM619 340h1v3h-1zM619 346h1v3h-1zM619 352h1v3h-1zM619 358h1v3h-1zM619 364h1v3h-1zM619 370h1v3h-1zM619 376h1v1h-1z" fill="#808080"/>
<path d="M643 52h1v3h-1zM643 58h1v3h-1zM643 64h1v3h-1zM643 70h1v3h-1zM643 76h1v3h-1zM643 82h1v3h-1zM643 88h1v3h-1zM643 94h1v3h-1zM643 100h1v3h-1zM643 106h1v3h-1zM643 112h1v3h-1zM643 118h1v3h-1zM643 124h1v3h-1zM643 130h1v3h-1zM643 136h1v3h-1zM643 142h1v3h-1zM643 148h1v3h-1zM643 154h1v3h-1zM643 160h1v3h-1zM643 166h1v3h-1zM643 172h1v3h-1zM643 178h1v3h-1zM643 184h1v3h-1zM643 190h1v3h-1zM643 196h1v3h-1zM643 202h1v3h-1zM643 208h1v3h-1zM643 214h1v3h-1zM643 220h1v3h-1zM643 226h1v3h-1zM643 232h1v3h-1zM643 238h1v3h-1zM643 244h1v3h-1zM643 250h1v3h-1zM643 256h1v3h-1zM643 262h1v3h-1zM643 268h1v3h-1zM643 274h1v3h-1zM643 280h1v3h-1zM643 286h1v3h-1zM643 292h1v3h-1zM643 298h1v3h-1zM643 304h1v3h-1zM643 310h1v3h-1zM643 316h1v3h-1zM643 322h1v3h-1zM643 328h1v3h-1zM643 334h1v3h-1zM643 340h1v3h-1zM643 346h1v3h-1zM643 352h1v3h-1zM643 358h1v3h-1zM643 364h1v3h-1zM643 370h1v3h-1zM643 376h1v1h-1z" fill="#808080"/>
<path d="M668 52h1v3h-1zM668 58h1v3h-1zM668 64h1v3h-1zM668 70h1v3h-1zM668 76h1v3h-1zM668 82h1v3h-1zM668 88h1v3h-1zM668 94h1v3h-1zM668 100h1v3h-1zM668 106h1v3h-1zM668 112h1v3h-1zM668 118h1v3h-1zM668 124h1v3h-1zM668 130h1v3h-1zM668 136h1v3h-1zM668 142h1v3h-1zM668 148h1v3h-1zM668 154h1v3h-1zM668 160h1v3h-1zM668 166h1v3h-1zM668 172h1v3h-1zM668 178h1v3h-1zM668 184h1v3h-1zM668 190h1v3h-1zM668 196h1v3h-1zM668 202h1v3h-1zM668 208h1v3h-1zM668 214h1v3h-1zM668 220h1v3h-1zM668 226h1v3h-1zM668 232h1v3h-1zM668 238h1v3h-1zM668 244h1v3h-1zM668 250h1v3h-1zM668 256h1v3h-1zM668 262h1v3h-1zM668 268h1v3h-1zM668 274h1v3h-1zM668 280h1v3h-1zM668 286h1v3h-1zM668 292h1v3h-1zM668 298h1v3h-1zM668 304h1v3h-1zM668 310h1v3h-1zM668 316h1v3h-1zM668 322h1v3h-1zM668 328h1v3h-1zM668 334h1v3h-1zM668 340h1v3h-1zM668 346h1v3h-1zM668 352h1v3h-1zM668 358h1v3h-1zM668 364h1v3h-1zM668 370h1v3h-1zM668 376h1v1h-1z" fill="#808080"/>
<path d="M692 52h1v3h-1zM692 58h1v3h-1zM692 64h1v3h-1zM692 70h1v3h-1zM692 76h1v3h-1zM692 82h1v3h-1zM692 88h1v3h-1zM692 94h1v3h-1zM692 100h1v3h-1zM692 106h1v3h-1zM692 112h1v3h-1zM692 118h1v3h-1zM692 124h1v3h-1zM692 130h1v3h-1zM692 136h1v3h-1zM692 142h1v3h-1zM692 148h1v3h-1zM692 154h1v3h-1zM692 160h1v3h-1zM692 166h1v3h-1zM692 172h1v3h-1zM692 178h1v3h-1zM692 184h1v3h-1zM692 190h1v3h-1zM692 196h1v3h-1zM692 202h1v3h-1zM692 208h1v3h-1zM692 214h1v3h-1zM692 220h1v3h-1zM692 226h1v3h-1zM692 232h1v3h-1zM692 238h1v3h-1zM692 244h1v3h-1zM692 250h1v3h-1zM692 256h1v3h-1zM692 262h1v3h-1zM692 268h1v3h-1zM692 274h1v3h-1zM692 280h1v3h-1zM692 286h1v3h-1zM692 292h1v3h-1zM692 298h1v3h-1zM692 304h1v3h-1zM692 310h1v3h-1zM692 316h1v3h-1zM692 322h1v3h-1zM692 328h1v3h-1zM692 334h1v3h-1zM692 340h1v3h-1zM692 346h1v3h-1zM692 352h1v3h-1zM692 358h1v3h-1zM692 364h1v3h-1zM692 370h1v3h-1zM692 376h1v1h-1z" fill="#808080"/>
<path d="M716 52h1v3h-1zM716 58h1v3h-1zM716 64h1v3h-1zM716 70h1v3h-1zM716 76h1v3h-1zM716 82h1v3h-1zM716 88h1v3h-1zM716 94h1v3h-1zM716 100h1v3h-1zM716 106h1v3h-1zM716 112h1v3h-1zM716 118h1v3h-1zM716 124h1v3h-1zM716 130h1v3h-1zM716 136h1v3h-1zM716 142h1v3h-1zM716 148h1v3h-1zM716 154h1v3h-1zM716 160h1v3h-1zM716 166h1v3h-1zM716 172h1v3h-1zM716 178h1v3h-1zM716 184h1v3h-1zM716 190h1v3h-1zM716 196h1v3h-1zM716 202h1v3h-1zM716 208h1v3h-1zM716 214h1v3h-1zM716 220h1v3h-1zM716 226h1v3h-1zM716 232h1v3h-1zM716 238h1v3h-1zM716 244h1v3h-1zM716 250h1v3h-1zM716 256h1v3h-1zM716 262h1v3h-1zM716 268h1v3h-1zM716 274h1v3h-1zM716 280h1v3h-1zM716 286h1v3h-1zM716 292h1v3h-1zM716 298h1v3h-1zM716 304h1v3h-1zM716 310h1v3h-1zM716 316h1v3h-1zM716 322h1v3h-1zM716 328h1v3h-1zM716 334h1v3h-1zM716 340h1v3h-1zM716 346h1v3h-1zM716 352h1v3h-1zM716 358h1v3h-1zM716 364h1v3h-1zM716 370h1v3h-1zM716 376h1v1h-1z" fill="#808080"/>
<rect x="36" y="65" width="3" height="1" fill="#808080"/>
<rect x="36" y="87" width="3" height="1" fill="#808080"/>
<rect x="36" y="110" width="3" height="1" fill="#808080"/>
<rect x="36" y="132" width="3" height="1" fill="#808080"/>
<rect x="36" y="154" width="3" height="1" fill="#808080"/>
<rect x="36" y="177" width="3" height="1" fill="#808080"/>
<rect x="36" y="199" width="3" height="1" fill="#808080"/>
<rect x="36" y="221" width="3" height="1" fill="#808080"/>
<rect x="36" y="244" width="3" height="1" fill="#808080"/>
<rect x="36" y="266" width="3" height="1" fill="#808080"/>
<rect x="36" y="289" width="3" height="1" fill="#808080"/>
<rect x="36" y="311" width="3" height="1" fill="#808080"/>
<rect x="36" y="333" width="3" height="1" fill="#808080"/>
<rect x="36" y="356" width="3" height="1" fill="#808080"/>
<rect x="36" y="378" width="3" height="1" fill="#808080"/>
<rect x="36" y="54" width="3" height="1" fill="#808080"/>
<rect x="40" y="379" width="1" height="4" fill="#808080"/>
<rect x="64" y="379" width="1" height="4" fill="#808080"/>
<rect x="88" y="379" width="1" height="4" fill="#808080"/>
<rect x="112" y="379" width="1" height="4" fill="#808080"/>
<rect x="137" y="379" width="1" height="4" fill="#808080"/>
<rect x="161" y="379" width="1" height="4" fill="#808080"/>
<rect x="185" y="379" width="1" height="4" fill="#808080"/>
<rect x="209" y="379" width="1" height="4" fill="#808080"/>
<rect x="233" y="379" width="1" height="4" fill="#808080"/>
<rect x="257" y="379" width="1" height="4" fill="#808080"/>
<rect x="281" y="379" width="1" height="4" fill="#808080"/>
<rect x="306" y="379" width="1" height="4" fill="#808080"/>
<rect x="330" y="379" width="1" height="4" fill="#808080"/>
<rect x="354" y="379" width="1" height="4" fill="#808080"/>
<rect x="378" y="379" width="1" height="4" fill="#808080"/>
<rect x="402" y="379" width="1" height="4" fill="#808080"/>
<rect x="426" y="379" width="1" height="4" fill="#808080"/>
<rect x="450" y="379" width="1" height="4" fill="#808080"/>
<rect x="474" y="379" width="1" height="4" fill="#808080"/>
<rect x="499" y="379" width="1" height="4" fill="#808080"/>
<rect x="523" y="379" width="1" height="4" fill="#808080"/>
<rect x="547" y="379" width="1" height="4" fill="#808080"/>
<rect x="571" y="379" width="1" height="4" fill="#808080"/>
<rect x="595" y="379" width="1" height="4" fill="#808080"/>
<rect x="619" y="379" width="1" height="4" fill="#808080"/>
<rect x="643" y="379" width="1" height="4" fill="#808080"/>
<rect x="668" y="379" width="1" height="4" fill="#808080"/>
<rect x="692" y="379" width="1" height="4" fill="#808080"/>
<rect x="716" y="379" width="1" height="4" fill="#808080"/>
<rect x="740" y="379" width="1" height="4" fill="#808080"/>
<rect x="41" y="243" width="698" height="2" fill="#000"/>
<path d="M36 171h18v1h-18zM60 171h18v1h-18zM84 171h18v1h-18zM108 171h18v1h-18zM132 171h18v1h-18zM156 171h18v1h-18zM180 171h18v1h-18zM204 171h18v1h-18zM228 171h18v1h-18zM252 171h18v1h-18zM276 171h18v1h-18zM300 171h18v1h-18zM324 171h18v1h-18zM348 171h18v1h-18zM372 171h18v1h-18zM396 171h18v1h-18zM420 171h18v1h-18zM444 171h18v1h-18zM468 171h18v1h-18zM492 171h18v1h-18zM516 171h18v1h-18zM540 171h18v1h-18zM564 171h18v1h-18zM588 171h18v1h-18zM612 171h18v1h-18zM636 171h18v1h-18zM660 171h18v1h-18zM684 171h18v1h-18zM708 171h18v1h-18zM732 171h5v1h-5z" fill="#400040"/>
<path d="M36 179h18v1h-18zM60 179h18v1h-18zM84 179h18v1h-18zM108 179h18v1h-18zM132 179h18v1h-18zM156 179h18v1h-18zM180 179h18v1h-18zM204 179h18v1h-18zM228 179h18v1h-18zM252 179h18v1h-18zM276 179h18v1h-18zM300 179h18v1h-18zM324 179h18v1h-18zM348 179h18v1h-18zM372 179h18v1h-18zM396 179h18v1h-18zM420 179h18v1h-18zM444 179h18v1h-18zM468 179h18v1h-18zM492 179h18v1h-18zM516 179h18v1h-18zM540 179h18v1h-18zM564 179h18v1h-18zM588 179h18v1h-18zM612 179h18v1h-18zM636 179h18v1h-18zM660 179h18v1h-18zM684 179h18v1h-18zM708 179h18v1h-18zM732 179h5v1h-5z" fill="#ff2828"/>
<rect x="39" y="47" width="702" height="2" fill="#808080"/>
<rect x="39" y="377" width="702" height="2" fill="#808080"/>
<rect x="39" y="47" width="2" height="332" fill="#808080"/>
<rect x="739" y="47" width="2" height="332" fill="#808080"/>
<polyline points="40.0,171.2 64.1,178.4 88.3,177.9 112.4,177.3 136.6,177.9 160.7,186.3 184.8,195.8 209.0,187.9 233.1,191.8 257.2,187.1 281.4,187.1 305.5,187.9 329.7,203.3 353.8,231.2 377.9,213.6 402.1,234.9 426.2,234.9 450.3,224.3 474.5,180.1 498.6,173.7 522.8,180.7 546.9,199.7 571.0,212.0 595.2,238.2 619.3,243.3 643.4,224.8 667.6,209.4 691.7,231.5 715.9,250.0 740.0,248.6" fill="none" stroke="#ff2828" stroke-width="2.4" stroke-linejoin="round"/>
<polyline points="40.0,158.9 64.1,155.0 88.3,151.1 112.4,120.9 136.6,120.9 160.7,127.0 184.8,120.3 209.0,110.8 233.1,118.1 257.2,152.7 281.4,158.3 305.5,137.6 329.7,140.4 353.8,138.8 377.9,149.4 402.1,152.2 426.2,139.3 450.3,118.1 474.5,147.7 498.6,142.1 522.8,158.3 546.9,158.3 571.0,199.7 595.2,212.0 619.3,220.3 643.4,194.6 667.6,184.6 691.7,177.3 715.9,168.4 740.0,147.7" fill="none" stroke="#ff2828" stroke-width="2.4" stroke-linejoin="round"/>
<polyline points="40.0,167.3 64.1,167.3 88.3,164.5 112.4,152.2 136.6,153.8 160.7,157.8 184.8,160.0 209.0,149.9 233.1,151.6 257.2,171.5 281.4,176.4 305.5,166.1 329.7,173.4 353.8,185.1 377.9,180.7 402.1,194.6 426.2,188.5 450.3,169.5 474.5,162.2 498.6,160.6 522.8,172.8 546.9,182.6 571.0,205.8 595.2,225.1 619.3,232.6 643.4,208.1 667.6,198.6 691.7,200.8 715.9,210.6 740.0,199.7" fill="none" stroke="#ff2828" stroke-width="3.4" stroke-linejoin="round"/>
<rect x="190" y="374" width="1" height="12" fill="#000"/>
<rect x="539" y="374" width="1" height="12" fill="#000"/>
<circle cx="190.5" cy="403.3" r="5.2" fill="#fff"/><circle cx="191" cy="403" r="4.7" fill="#000"/>
<circle cx="539.7" cy="403.2" r="4.8" fill="#dcdcdc" stroke="#000" stroke-width="1.3"/>
<path d="M145 33h10v1h-10zM145 33h1v9h-1zM154 33h1v10h-1zM151 42h4v1h-4z" fill="#400040"/>
<rect x="764" y="47" width="8" height="2" fill="#808080"/>
<path d="M770 54h1v3h-1zM770 60h1v3h-1zM770 66h1v3h-1zM770 72h1v3h-1zM770 78h1v3h-1zM770 84h1v3h-1zM770 90h1v3h-1zM770 96h1v3h-1zM770 102h1v3h-1zM770 108h1v3h-1zM770 114h1v3h-1zM770 120h1v3h-1zM770 126h1v3h-1zM770 132h1v3h-1zM770 138h1v3h-1zM770 144h1v3h-1zM770 150h1v3h-1zM770 156h1v3h-1zM770 162h1v3h-1zM770 168h1v3h-1zM770 174h1v3h-1zM770 180h1v3h-1zM770 186h1v3h-1zM770 192h1v3h-1zM770 198h1v3h-1zM770 204h1v3h-1zM770 210h1v3h-1zM770 216h1v3h-1zM770 222h1v3h-1zM770 228h1v3h-1zM770 234h1v3h-1zM770 240h1v3h-1zM770 246h1v3h-1zM770 252h1v3h-1zM770 258h1v3h-1zM770 264h1v3h-1zM770 270h1v3h-1zM770 276h1v3h-1zM770 282h1v3h-1zM770 288h1v3h-1zM770 294h1v3h-1zM770 300h1v3h-1zM770 306h1v3h-1zM770 312h1v3h-1zM770 318h1v3h-1zM770 324h1v3h-1zM770 330h1v3h-1zM770 336h1v3h-1zM770 342h1v3h-1zM770 348h1v3h-1zM770 354h1v3h-1zM770 360h1v3h-1zM770 366h1v3h-1zM770 372h1v3h-1zM770 378h1v3h-1zM770 384h1v3h-1zM770 390h1v3h-1zM770 396h1v3h-1zM770 402h1v3h-1zM770 408h1v3h-1zM770 414h1v3h-1zM770 420h1v3h-1zM770 426h1v3h-1zM770 432h1v3h-1zM770 438h1v3h-1zM770 444h1v3h-1zM770 450h1v3h-1zM770 456h1v3h-1z" fill="#808080"/>
<rect x="764" y="61" width="2" height="1" fill="#808080"/>
<rect x="769" y="61" width="3" height="1" fill="#808080"/>
<rect x="764" y="87" width="2" height="1" fill="#808080"/>
<rect x="769" y="87" width="3" height="1" fill="#808080"/>
<rect x="764" y="113" width="2" height="1" fill="#808080"/>
<rect x="769" y="113" width="3" height="1" fill="#808080"/>
<rect x="764" y="139" width="2" height="1" fill="#808080"/>
<rect x="769" y="139" width="3" height="1" fill="#808080"/>
<rect x="764" y="165" width="2" height="1" fill="#808080"/>
<rect x="769" y="165" width="3" height="1" fill="#808080"/>
<rect x="764" y="191" width="2" height="1" fill="#808080"/>
<rect x="769" y="191" width="3" height="1" fill="#808080"/>
<rect x="764" y="217" width="2" height="1" fill="#808080"/>
<rect x="769" y="217" width="3" height="1" fill="#808080"/>
<rect x="764" y="244" width="2" height="1" fill="#808080"/>
<rect x="769" y="244" width="3" height="1" fill="#808080"/>
<rect x="764" y="270" width="2" height="1" fill="#808080"/>
<rect x="769" y="270" width="3" height="1" fill="#808080"/>
<rect x="764" y="296" width="2" height="1" fill="#808080"/>
<rect x="769" y="296" width="3" height="1" fill="#808080"/>
<rect x="764" y="322" width="2" height="1" fill="#808080"/>
<rect x="769" y="322" width="3" height="1" fill="#808080"/>
<rect x="764" y="348" width="2" height="1" fill="#808080"/>
<rect x="769" y="348" width="3" height="1" fill="#808080"/>
<rect x="764" y="374" width="2" height="1" fill="#808080"/>
<rect x="769" y="374" width="3" height="1" fill="#808080"/>
<rect x="764" y="400" width="2" height="1" fill="#808080"/>
<rect x="769" y="400" width="3" height="1" fill="#808080"/>
<rect x="764" y="426" width="2" height="1" fill="#808080"/>
<rect x="769" y="426" width="3" height="1" fill="#808080"/>
<rect x="764" y="452" width="2" height="1" fill="#808080"/>
<rect x="769" y="452" width="3" height="1" fill="#808080"/>
</svg>
<div class="yl" style="top:59px">32.0</div><div class="yl" style="top:81px">28.0</div><div class="yl" style="top:104px">24.0</div><div class="yl" style="top:126px">20.0</div><div class="yl" style="top:148px">16.0</div><div class="yl" style="top:171px">12.0</div><div class="yl" style="top:193px">8.0</div><div class="yl" style="top:215px">4.0</div><div class="yl" style="top:238px">0.0</div><div class="yl" style="top:260px">-4.0</div><div class="yl" style="top:283px">-8.0</div><div class="yl" style="top:305px">-12.0</div><div class="yl" style="top:327px">-16.0</div><div class="yl" style="top:350px">-20.0</div><div class="yl" style="top:372px">-24.0</div>
<div class="xl" style="left:25.0px">1</div><div class="xl" style="left:49.1px">2</div><div class="xl" style="left:73.3px">3</div><div class="xl" style="left:97.4px">4</div><div class="xl" style="left:121.6px">5</div><div class="xl" style="left:145.7px">6</div><div class="xl" style="left:169.8px">7</div><div class="xl" style="left:194.0px">8</div><div class="xl" style="left:218.1px">9</div><div class="xl" style="left:242.2px">10</div><div class="xl" style="left:266.4px">11</div><div class="xl" style="left:290.5px">12</div><div class="xl" style="left:314.7px">13</div><div class="xl" style="left:338.8px">14</div><div class="xl" style="left:362.9px">15</div><div class="xl" style="left:387.1px">16</div><div class="xl" style="left:411.2px">17</div><div class="xl" style="left:435.3px">18</div><div class="xl" style="left:459.5px">19</div><div class="xl" style="left:483.6px">20</div><div class="xl" style="left:507.8px">21</div><div class="xl" style="left:531.9px">22</div><div class="xl" style="left:556.0px">23</div><div class="xl" style="left:580.2px">24</div><div class="xl" style="left:604.3px">25</div><div class="xl" style="left:628.4px">26</div><div class="xl" style="left:652.6px">27</div><div class="xl" style="left:676.7px">28</div><div class="xl" style="left:700.9px">29</div><div class="xl" style="left:725.0px">30</div>
<div style="position:absolute;left:0;top:414px;width:763px;height:44px;background:#c8c8fc;border-top:1px solid #fff;border-left:1px solid #fff;box-sizing:border-box;"></div>
<div style="position:absolute;left:763px;top:414px;width:1px;height:44px;background:#808080;"></div>
<div style="position:absolute;left:87px;top:414px;width:1px;height:44px;background:#808080;"></div>
<div style="position:absolute;left:88px;top:414px;width:1px;height:44px;background:#fff;"></div>
<div style="position:absolute;left:204px;top:414px;width:1px;height:44px;background:#808080;"></div>
<div style="position:absolute;left:205px;top:414px;width:1px;height:44px;background:#fff;"></div>
<div style="position:absolute;left:322px;top:414px;width:1px;height:44px;background:#808080;"></div>
<div style="position:absolute;left:323px;top:414px;width:1px;height:44px;background:#fff;"></div>
<div style="position:absolute;left:440px;top:414px;width:1px;height:44px;background:#808080;"></div>
<div style="position:absolute;left:441px;top:414px;width:1px;height:44px;background:#fff;"></div>
<div class="a b" style="left:8px;top:438px;letter-spacing:0.45px;">Lufttemp</div>
<div class="a b" style="left:94px;top:423px;letter-spacing:1px;">MinWert</div>
<div style="position:absolute;left:186px;top:424px;width:4px;height:3px;background:#000;border-radius:1.5px;"></div><div class="a b" style="left:192px;top:423px;">C</div>
<div class="a" style="left:94px;top:439px;">29.09.  06:54</div>
<div class="a" style="left:180px;top:439px;width:19px;text-align:right;">-1.2</div>
<div class="a b" style="left:212px;top:423px;letter-spacing:1px;">MaxWert</div>
<div style="position:absolute;left:304px;top:424px;width:4px;height:3px;background:#000;border-radius:1.5px;"></div><div class="a b" style="left:310px;top:423px;">C</div>
<div class="a" style="left:212px;top:439px;">08.09.  15:33</div>
<div class="a" style="left:296px;top:439px;width:21px;text-align:right;">24.0</div>
<div class="a b" style="left:330px;top:423px;letter-spacing:0.5px;">Durchschnitt</div>
<div style="position:absolute;left:422px;top:424px;width:4px;height:3px;background:#000;border-radius:1.5px;"></div><div class="a b" style="left:428px;top:423px;">C</div>
<div class="a" style="left:336px;top:439px;">( - 1.49 )</div>
<div class="a" style="left:400px;top:439px;width:34px;text-align:right;">11.51</div>
<div style="position:absolute;left:9px;top:456px;width:2px;height:2px;background:#000"></div>
<div style="position:absolute;left:15px;top:456px;width:2px;height:2px;background:#000"></div>
<div style="position:absolute;left:31px;top:456px;width:2px;height:2px;background:#000"></div>
<div style="position:absolute;left:40px;top:456px;width:2px;height:2px;background:#000"></div>
<div style="position:absolute;left:55px;top:457px;width:2px;height:1px;background:#000"></div>
</body></html>
